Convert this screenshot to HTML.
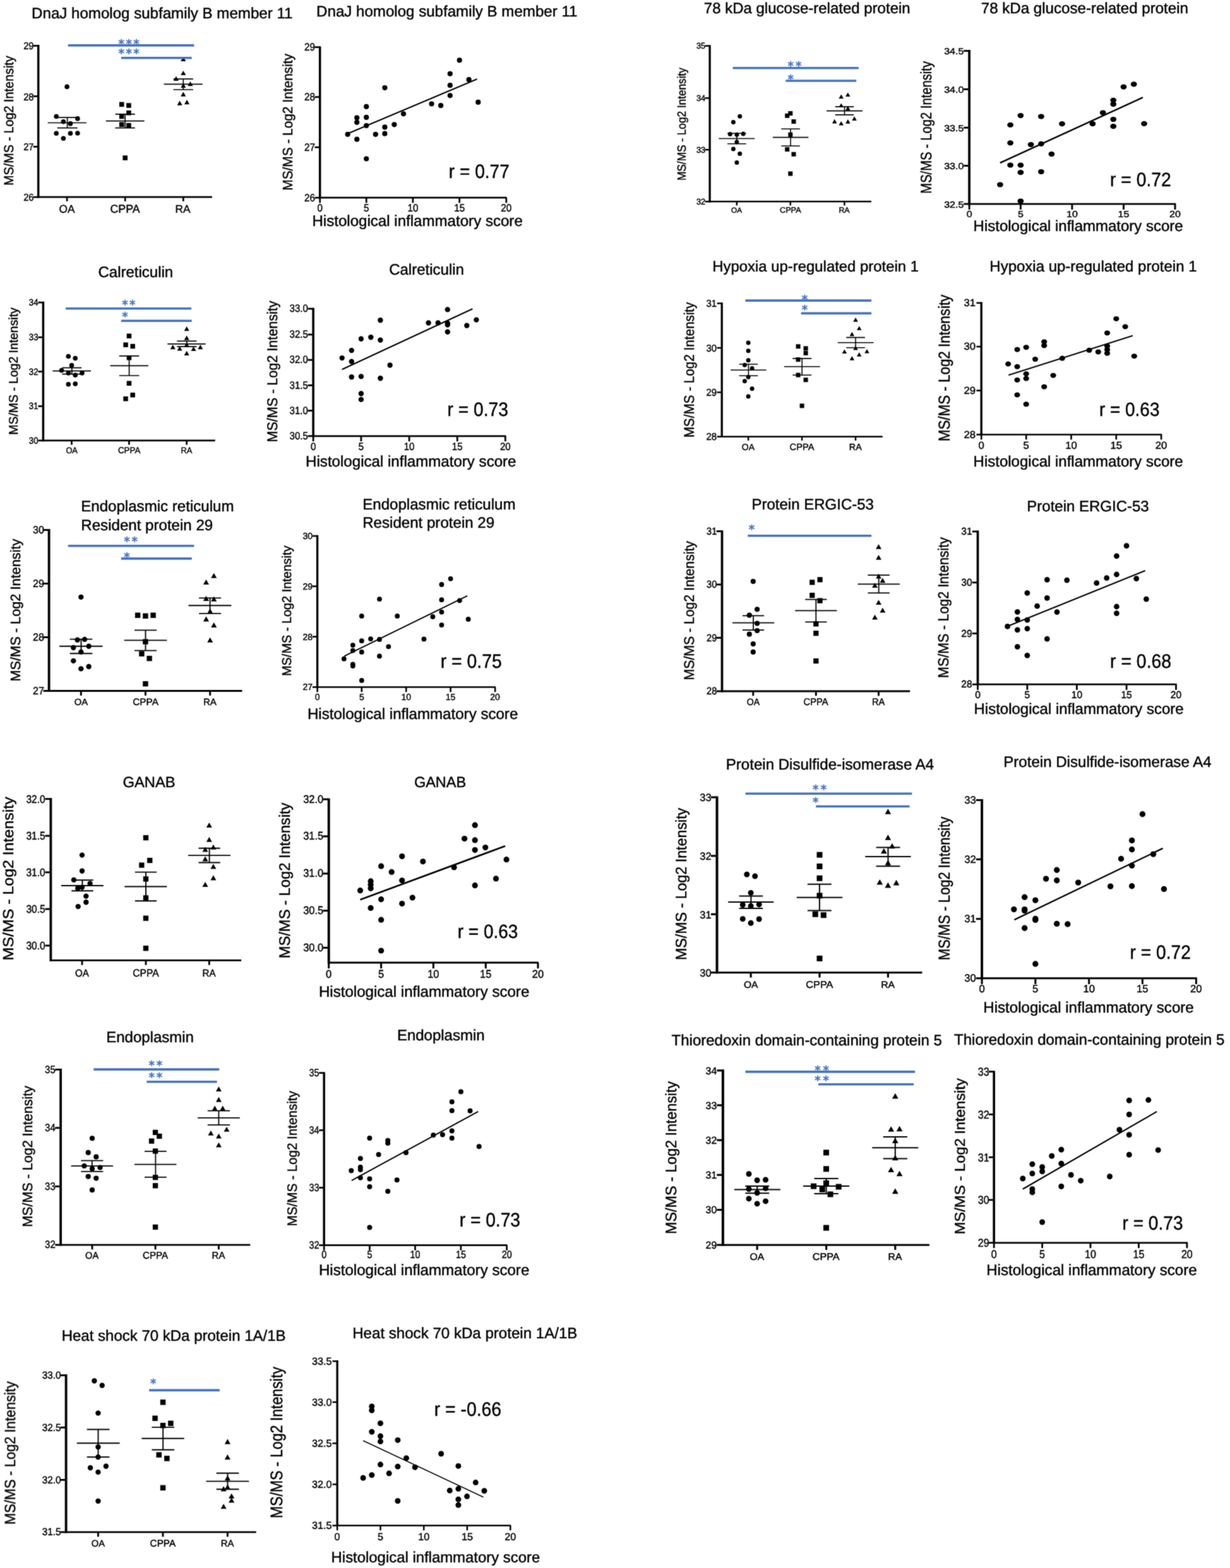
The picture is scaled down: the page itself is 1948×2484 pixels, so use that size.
<!DOCTYPE html>
<html lang="en">
<head>
<meta charset="utf-8">
<title>MS/MS Log2 intensity and histological inflammatory score</title>
<style>
html,body{margin:0;padding:0;background:#fff;}
body{width:1948px;height:2484px;overflow:hidden;}
svg{display:block;font-family:'Liberation Sans', Arial, Helvetica, sans-serif;fill:#000;}
svg text{stroke:#000;stroke-width:.45px;text-rendering:geometricPrecision}
svg .st{font-family:'DejaVu Sans','Liberation Sans',sans-serif;fill:#4472C4;stroke:#4472C4;stroke-width:.7px}
</style>
</head>
<body>
<svg width="1948" height="2484" viewBox="0 0 1948 2484">
<defs>
<filter id="soft" x="0" y="0" width="100%" height="100%" filterUnits="userSpaceOnUse" color-interpolation-filters="sRGB">
<feConvolveMatrix order="3" kernelMatrix="0.5 1 0.5 1 6 1 0.5 1 0.5" divisor="12" edgeMode="duplicate" preserveAlpha="false"/>
</filter>
</defs>
<rect width="100%" height="100%" fill="#fff"/>
<g filter="url(#soft)">
<g>
<text x="50.1" y="29.1" font-size="24.1">DnaJ homolog subfamily B member 11</text>
<line x1="60.7" y1="71.1" x2="60.7" y2="313.6" stroke="#000" stroke-width="3.5"/>
<line x1="59.4" y1="312.2" x2="335.9" y2="312.2" stroke="#000" stroke-width="2.7"/>
<line x1="52.6" y1="72.5" x2="60.7" y2="72.5" stroke="#000" stroke-width="2.7"/>
<text transform="translate(37.2 78.4) scale(0.925 1)" font-size="15.8">29</text>
<line x1="52.6" y1="152.5" x2="60.7" y2="152.5" stroke="#000" stroke-width="2.7"/>
<text transform="translate(37.2 158.5) scale(0.925 1)" font-size="15.8">28</text>
<line x1="52.6" y1="232.4" x2="60.7" y2="232.4" stroke="#000" stroke-width="2.7"/>
<text transform="translate(37.2 238.3) scale(0.925 1)" font-size="15.8">27</text>
<line x1="52.6" y1="312.2" x2="60.7" y2="312.2" stroke="#000" stroke-width="2.7"/>
<text transform="translate(37.2 318.2) scale(0.925 1)" font-size="15.8">26</text>
<line x1="106.1" y1="312.2" x2="106.1" y2="318.9" stroke="#000" stroke-width="2.7"/>
<text transform="translate(93.6 336.5) scale(0.984 1)" font-size="17.5">OA</text>
<line x1="198.2" y1="312.2" x2="198.2" y2="318.9" stroke="#000" stroke-width="2.7"/>
<text transform="translate(174.5 336.5) scale(0.984 1)" font-size="18.1">CPPA</text>
<line x1="290.3" y1="312.2" x2="290.3" y2="318.9" stroke="#000" stroke-width="2.7"/>
<text transform="translate(277.5 336.5) scale(0.984 1)" font-size="17.6">RA</text>
<text transform="translate(20.6 292.3) rotate(-90) scale(0.947 1)" x="-1.7" y="0" font-size="20.9">MS/MS - Log2 Intensity</text>
<path d="M75.6 194.5H136.9M90.7 186.2H122.6M90.7 202.7H122.6M106.6 186.2V202.7" stroke="#000" stroke-width="1.7" fill="none"/>
<circle cx="106.1" cy="137.4" r="3.8"/>
<circle cx="89.2" cy="184.5" r="3.8"/>
<circle cx="122.9" cy="187.9" r="3.8"/>
<circle cx="100.4" cy="192.7" r="3.8"/>
<circle cx="111.5" cy="195.9" r="3.8"/>
<circle cx="89.2" cy="211.3" r="3.8"/>
<circle cx="111.5" cy="211.3" r="3.8"/>
<circle cx="122.9" cy="211" r="3.8"/>
<circle cx="100.4" cy="219.3" r="3.8"/>
<path d="M167.7 191.6H228.7M182.5 180.8H213.8M182.5 202.7H213.8M198.2 180.8V202.7" stroke="#000" stroke-width="1.7" fill="none"/>
<rect x="188.9" y="161.6" width="7.6" height="7.6"/>
<rect x="200.1" y="163.3" width="7.6" height="7.6"/>
<rect x="200.1" y="175" width="7.6" height="7.6"/>
<rect x="188.9" y="180.7" width="7.6" height="7.6"/>
<rect x="188.9" y="193.5" width="7.6" height="7.6"/>
<rect x="200.1" y="194.9" width="7.6" height="7.6"/>
<rect x="194.4" y="246.3" width="7.6" height="7.6"/>
<path d="M259.5 133.4H320.8M274.6 125.2H305.9M274.6 142H305.9M290.3 125.2V142" stroke="#000" stroke-width="1.7" fill="none"/>
<path d="M290.3 89.9L294.4 97.1H286.2Z"/>
<path d="M290.3 111.9L294.4 119.1H286.2Z"/>
<path d="M278.9 120.7L283 127.9H274.7Z"/>
<path d="M301.4 129L305.5 136.2H297.3Z"/>
<path d="M290.3 131.8L294.4 139H286.2Z"/>
<path d="M290.3 145.5L294.4 152.7H286.2Z"/>
<path d="M284.6 159.5L288.7 166.7H280.5Z"/>
<path d="M296 158.1L300.1 165.3H291.9Z"/>
<line x1="107.8" y1="71.9" x2="307.4" y2="71.9" stroke="#4472C4" stroke-width="3.6"/>
<line x1="191.9" y1="91.8" x2="303.7" y2="91.8" stroke="#4472C4" stroke-width="3.6"/>
<text class="st" x="187.6" y="75.8" font-size="18.9" letter-spacing="2.39">***</text>
<text class="st" x="187.6" y="90.9" font-size="18.9" letter-spacing="2.39">***</text>
</g>
<g>
<text x="501.1" y="26.3" font-size="24.1">DnaJ homolog subfamily B member 11</text>
<line x1="506.7" y1="73.4" x2="506.7" y2="314.6" stroke="#000" stroke-width="3.5"/>
<line x1="505.3" y1="313.2" x2="802.4" y2="313.2" stroke="#000" stroke-width="2.7"/>
<line x1="498.5" y1="74.7" x2="506.7" y2="74.7" stroke="#000" stroke-width="2.7"/>
<text transform="translate(482 80.3) scale(0.913 1)" font-size="16.7">29</text>
<line x1="498.5" y1="153.7" x2="506.7" y2="153.7" stroke="#000" stroke-width="2.7"/>
<text transform="translate(482 159.3) scale(0.913 1)" font-size="16.7">28</text>
<line x1="498.5" y1="233.3" x2="506.7" y2="233.3" stroke="#000" stroke-width="2.7"/>
<text transform="translate(482 238.9) scale(0.913 1)" font-size="16.7">27</text>
<line x1="498.5" y1="313.2" x2="506.7" y2="313.2" stroke="#000" stroke-width="2.7"/>
<text transform="translate(482 318.8) scale(0.913 1)" font-size="16.7">26</text>
<line x1="506.7" y1="313.2" x2="506.7" y2="321.4" stroke="#000" stroke-width="2.7"/>
<text transform="translate(502.5 334.8) scale(0.913 1)" font-size="16.7">0</text>
<line x1="580.2" y1="313.2" x2="580.2" y2="321.4" stroke="#000" stroke-width="2.7"/>
<text transform="translate(575.9 334.8) scale(0.913 1)" font-size="16.7">5</text>
<line x1="653.9" y1="313.2" x2="653.9" y2="321.4" stroke="#000" stroke-width="2.7"/>
<text transform="translate(645.5 334.8) scale(0.913 1)" font-size="16.7">10</text>
<line x1="727.7" y1="313.2" x2="727.7" y2="321.4" stroke="#000" stroke-width="2.7"/>
<text transform="translate(719.2 334.8) scale(0.913 1)" font-size="16.7">15</text>
<line x1="801.8" y1="313.2" x2="801.8" y2="321.4" stroke="#000" stroke-width="2.7"/>
<text transform="translate(793.3 334.8) scale(0.913 1)" font-size="16.7">20</text>
<text x="494.4" y="358.3" font-size="24.1">Histological inflammatory score</text>
<text transform="translate(462.7 300.1) rotate(-90) scale(0.956 1)" x="-1.7" y="0" font-size="21.8">MS/MS - Log2 Intensity</text>
<circle cx="727.7" cy="95.4" r="4.1"/>
<circle cx="712.8" cy="116.8" r="4.1"/>
<circle cx="742.6" cy="126.2" r="4.1"/>
<circle cx="712.8" cy="135.2" r="4.1"/>
<circle cx="609.4" cy="139.1" r="4.1"/>
<circle cx="712.8" cy="151.3" r="4.1"/>
<circle cx="757.3" cy="161.9" r="4.1"/>
<circle cx="683.5" cy="164.5" r="4.1"/>
<circle cx="698.1" cy="167.2" r="4.1"/>
<circle cx="580.2" cy="168.9" r="4.1"/>
<circle cx="639" cy="180.3" r="4.1"/>
<circle cx="565.2" cy="186.5" r="4.1"/>
<circle cx="580.2" cy="185.9" r="4.1"/>
<circle cx="565.2" cy="193.8" r="4.1"/>
<circle cx="580.2" cy="199.1" r="4.1"/>
<circle cx="624.4" cy="197.3" r="4.1"/>
<circle cx="609.4" cy="201.4" r="4.1"/>
<circle cx="550.6" cy="212.8" r="4.1"/>
<circle cx="594.8" cy="212.8" r="4.1"/>
<circle cx="609.4" cy="211.7" r="4.1"/>
<circle cx="565.2" cy="220.7" r="4.1"/>
<circle cx="580.2" cy="251.5" r="4.1"/>
<line x1="553" y1="210.8" x2="755.5" y2="125.3" stroke="#000" stroke-width="2.1"/>
<text transform="translate(710.8 282.1) scale(0.915 1)" font-size="30.7">r = 0.77</text>
</g>
<g>
<text x="155.5" y="439" font-size="24">Calreticulin</text>
<line x1="68.4" y1="477.8" x2="68.4" y2="699.3" stroke="#000" stroke-width="3.5"/>
<line x1="67.1" y1="697.9" x2="340.7" y2="697.9" stroke="#000" stroke-width="2.7"/>
<line x1="60.4" y1="479.2" x2="68.4" y2="479.2" stroke="#000" stroke-width="2.7"/>
<text transform="translate(45.8 484) scale(0.894 1)" font-size="14.8">34</text>
<line x1="60.4" y1="534.3" x2="68.4" y2="534.3" stroke="#000" stroke-width="2.7"/>
<text transform="translate(45.8 539.1) scale(0.894 1)" font-size="14.8">33</text>
<line x1="60.4" y1="588.7" x2="68.4" y2="588.7" stroke="#000" stroke-width="2.7"/>
<text transform="translate(45.8 593.5) scale(0.894 1)" font-size="14.8">32</text>
<line x1="60.4" y1="643.5" x2="68.4" y2="643.5" stroke="#000" stroke-width="2.7"/>
<text transform="translate(45.8 648.3) scale(0.894 1)" font-size="14.8">31</text>
<line x1="60.4" y1="697.9" x2="68.4" y2="697.9" stroke="#000" stroke-width="2.7"/>
<text transform="translate(45.8 702.7) scale(0.894 1)" font-size="14.8">30</text>
<line x1="113.5" y1="697.9" x2="113.5" y2="704.6" stroke="#000" stroke-width="2.7"/>
<text transform="translate(104.4 717.9) scale(0.951 1)" font-size="13.4">OA</text>
<line x1="204.4" y1="697.9" x2="204.4" y2="704.6" stroke="#000" stroke-width="2.7"/>
<text transform="translate(187 717.9) scale(0.951 1)" font-size="14">CPPA</text>
<line x1="295.7" y1="697.9" x2="295.7" y2="704.6" stroke="#000" stroke-width="2.7"/>
<text transform="translate(286.4 717.9) scale(0.951 1)" font-size="13.6">RA</text>
<text transform="translate(27.8 687.1) rotate(-90) scale(0.974 1)" x="-1.6" y="0" font-size="19.9">MS/MS - Log2 Intensity</text>
<path d="M83.5 587.6H144M98.4 582.7H129.2M98.4 592.7H129.2M113.8 582.7V592.7" stroke="#000" stroke-width="1.7" fill="none"/>
<circle cx="108.3" cy="564.5" r="3.8"/>
<circle cx="119.2" cy="567.6" r="3.8"/>
<circle cx="113.5" cy="578.8" r="3.8"/>
<circle cx="97.5" cy="586.7" r="3.8"/>
<circle cx="108.3" cy="591" r="3.8"/>
<circle cx="130" cy="591" r="3.8"/>
<circle cx="119.2" cy="594.2" r="3.8"/>
<circle cx="108.3" cy="608.7" r="3.8"/>
<circle cx="119.2" cy="608.1" r="3.8"/>
<path d="M174.5 579.3H234.9M188.8 563.9H220.4M188.8 595H220.4M204.6 563.9V595" stroke="#000" stroke-width="1.7" fill="none"/>
<rect x="200.7" y="528.5" width="7.5" height="7.5"/>
<rect x="195.3" y="542.5" width="7.5" height="7.5"/>
<rect x="206.4" y="544.8" width="7.5" height="7.5"/>
<rect x="200.7" y="563" width="7.5" height="7.5"/>
<rect x="200.7" y="603.5" width="7.5" height="7.5"/>
<rect x="206.4" y="622" width="7.5" height="7.5"/>
<rect x="195.3" y="628" width="7.5" height="7.5"/>
<path d="M265.2 544.8H325.6M280.3 540.3H311.4M280.3 549.1H311.4M295.8 540.3V549.1" stroke="#000" stroke-width="1.7" fill="none"/>
<path d="M295.7 517L299.7 524.2H291.6Z"/>
<path d="M295.7 531.6L299.7 538.7H291.6Z"/>
<path d="M295.7 542.4L299.7 549.5H291.6Z"/>
<path d="M273.7 546.1L277.8 553.2H269.7Z"/>
<path d="M284.6 548.4L288.6 555.5H280.5Z"/>
<path d="M306.5 549L310.6 556.1H302.5Z"/>
<path d="M317.3 546.1L321.4 553.2H313.3Z"/>
<path d="M295.7 555.8L299.7 562.9H291.6Z"/>
<line x1="104.1" y1="488.7" x2="303.1" y2="488.7" stroke="#4472C4" stroke-width="3.6"/>
<line x1="191.9" y1="508.3" x2="303.7" y2="508.3" stroke="#4472C4" stroke-width="3.6"/>
<text class="st" x="193.3" y="488.6" font-size="18.9" letter-spacing="2.23">**</text>
<text class="st" x="193.3" y="508" font-size="18.9">*</text>
</g>
<g>
<text x="616.2" y="434.5" font-size="24">Calreticulin</text>
<line x1="496.1" y1="487.7" x2="496.1" y2="692.2" stroke="#000" stroke-width="3.6"/>
<line x1="494.7" y1="690.8" x2="801.2" y2="690.8" stroke="#000" stroke-width="2.8"/>
<line x1="487.7" y1="489.1" x2="496.1" y2="489.1" stroke="#000" stroke-width="2.8"/>
<text transform="translate(458.6 494.3) scale(0.907 1)" font-size="16.6">33.0</text>
<line x1="487.7" y1="530" x2="496.1" y2="530" stroke="#000" stroke-width="2.8"/>
<text transform="translate(458.6 535.2) scale(0.907 1)" font-size="16.6">32.5</text>
<line x1="487.7" y1="570.2" x2="496.1" y2="570.2" stroke="#000" stroke-width="2.8"/>
<text transform="translate(458.6 575.4) scale(0.907 1)" font-size="16.6">32.0</text>
<line x1="487.7" y1="610.4" x2="496.1" y2="610.4" stroke="#000" stroke-width="2.8"/>
<text transform="translate(458.6 615.6) scale(0.907 1)" font-size="16.6">31.5</text>
<line x1="487.7" y1="650.6" x2="496.1" y2="650.6" stroke="#000" stroke-width="2.8"/>
<text transform="translate(458.6 655.8) scale(0.907 1)" font-size="16.6">31.0</text>
<line x1="487.7" y1="690.8" x2="496.1" y2="690.8" stroke="#000" stroke-width="2.8"/>
<text transform="translate(458.6 696.1) scale(0.907 1)" font-size="16.6">30.5</text>
<line x1="496.1" y1="690.8" x2="496.1" y2="699.2" stroke="#000" stroke-width="2.8"/>
<text transform="translate(491.9 713.2) scale(0.907 1)" font-size="16.6">0</text>
<line x1="571.9" y1="690.8" x2="571.9" y2="699.2" stroke="#000" stroke-width="2.8"/>
<text transform="translate(567.8 713.2) scale(0.907 1)" font-size="16.6">5</text>
<line x1="648.1" y1="690.8" x2="648.1" y2="699.2" stroke="#000" stroke-width="2.8"/>
<text transform="translate(639.7 713.2) scale(0.907 1)" font-size="16.6">10</text>
<line x1="724.2" y1="690.8" x2="724.2" y2="699.2" stroke="#000" stroke-width="2.8"/>
<text transform="translate(715.8 713.2) scale(0.907 1)" font-size="16.6">15</text>
<line x1="800.3" y1="690.8" x2="800.3" y2="699.2" stroke="#000" stroke-width="2.8"/>
<text transform="translate(792 713.2) scale(0.907 1)" font-size="16.6">20</text>
<text x="484.1" y="739" font-size="24.1">Histological inflammatory score</text>
<text transform="translate(438.9 698.8) rotate(-90) scale(0.954 1)" x="-1.8" y="0" font-size="22.6">MS/MS - Log2 Intensity</text>
<circle cx="708.8" cy="490.4" r="4.2"/>
<circle cx="602.4" cy="507.2" r="4.2"/>
<circle cx="754.4" cy="506.6" r="4.2"/>
<circle cx="678.6" cy="511.5" r="4.2"/>
<circle cx="693.7" cy="511.5" r="4.2"/>
<circle cx="708.8" cy="512" r="4.2"/>
<circle cx="708.8" cy="514.6" r="4.2"/>
<circle cx="739.3" cy="515.7" r="4.2"/>
<circle cx="708.8" cy="525.7" r="4.2"/>
<circle cx="587.3" cy="534.3" r="4.2"/>
<circle cx="571.9" cy="536.8" r="4.2"/>
<circle cx="602.4" cy="538.8" r="4.2"/>
<circle cx="556.8" cy="555.1" r="4.2"/>
<circle cx="541.7" cy="567.1" r="4.2"/>
<circle cx="556.8" cy="572.8" r="4.2"/>
<circle cx="617.6" cy="578.5" r="4.2"/>
<circle cx="556.8" cy="597.3" r="4.2"/>
<circle cx="571.9" cy="596.4" r="4.2"/>
<circle cx="602.4" cy="599.3" r="4.2"/>
<circle cx="571.9" cy="623.5" r="4.2"/>
<circle cx="571.9" cy="632.9" r="4.2"/>
<line x1="541.7" y1="585.3" x2="748.4" y2="489.2" stroke="#000" stroke-width="2.2"/>
<text transform="translate(708.5 658.5) scale(0.915 1)" font-size="30.8">r = 0.73</text>
</g>
<g>
<text x="128.2" y="810.2" font-size="24.1">Endoplasmic reticulum</text>
<text x="128.3" y="839.9" font-size="24.1">Resident protein 29</text>
<line x1="77.6" y1="838.1" x2="77.6" y2="1095.9" stroke="#000" stroke-width="3.8"/>
<line x1="76.1" y1="1094.5" x2="383.5" y2="1094.5" stroke="#000" stroke-width="2.9"/>
<line x1="68.5" y1="839.6" x2="77.6" y2="839.6" stroke="#000" stroke-width="2.9"/>
<text transform="translate(52 845) scale(0.960 1)" font-size="16.7">30</text>
<line x1="68.5" y1="924.5" x2="77.6" y2="924.5" stroke="#000" stroke-width="2.9"/>
<text transform="translate(52 929.9) scale(0.960 1)" font-size="16.7">29</text>
<line x1="68.5" y1="1009.5" x2="77.6" y2="1009.5" stroke="#000" stroke-width="2.9"/>
<text transform="translate(52 1014.9) scale(0.960 1)" font-size="16.7">28</text>
<line x1="68.5" y1="1094.5" x2="77.6" y2="1094.5" stroke="#000" stroke-width="2.9"/>
<text transform="translate(52 1099.9) scale(0.960 1)" font-size="16.7">27</text>
<line x1="128.3" y1="1094.5" x2="128.3" y2="1101.9" stroke="#000" stroke-width="2.9"/>
<text transform="translate(117.7 1117) scale(1.021 1)" font-size="14.4">OA</text>
<line x1="230.4" y1="1094.5" x2="230.4" y2="1101.9" stroke="#000" stroke-width="2.9"/>
<text transform="translate(210.3 1117) scale(1.021 1)" font-size="15">CPPA</text>
<line x1="332.7" y1="1094.5" x2="332.7" y2="1101.9" stroke="#000" stroke-width="2.9"/>
<text transform="translate(321.9 1117) scale(1.021 1)" font-size="14.8">RA</text>
<text transform="translate(31.9 1077.9) rotate(-90) scale(0.998 1)" x="-1.7" y="0" font-size="21.8">MS/MS - Log2 Intensity</text>
<path d="M94.1 1023.8H162.5M110.6 1012.6H146.3M110.6 1035.2H146.3M128.5 1012.6V1035.2" stroke="#000" stroke-width="1.9" fill="none"/>
<circle cx="128.3" cy="945.9" r="4.2"/>
<circle cx="122.6" cy="1013.8" r="4.2"/>
<circle cx="134" cy="1012.9" r="4.2"/>
<circle cx="116.3" cy="1026" r="4.2"/>
<circle cx="140.6" cy="1023.8" r="4.2"/>
<circle cx="128.3" cy="1032.9" r="4.2"/>
<circle cx="116.3" cy="1046.9" r="4.2"/>
<circle cx="140.6" cy="1056" r="4.2"/>
<circle cx="128.3" cy="1059.4" r="4.2"/>
<path d="M196.7 1014.4H264.3M213 998.4H248.1M213 1030.6H248.1M230.5 998.4V1030.6" stroke="#000" stroke-width="1.9" fill="none"/>
<rect x="213.9" y="970.5" width="8.4" height="8.4"/>
<rect x="226.2" y="971.6" width="8.4" height="8.4"/>
<rect x="238.4" y="970.5" width="8.4" height="8.4"/>
<rect x="226.2" y="1012.4" width="8.4" height="8.4"/>
<rect x="220.2" y="1031.5" width="8.4" height="8.4"/>
<rect x="232.4" y="1038.9" width="8.4" height="8.4"/>
<rect x="226.2" y="1079.1" width="8.4" height="8.4"/>
<path d="M298.5 959.3H366.4M315.1 947.4H350.1M315.1 971.9H350.1M332.6 947.4V971.9" stroke="#000" stroke-width="1.9" fill="none"/>
<path d="M338.7 907.7L343.3 915.7H334.2Z"/>
<path d="M326.5 918L331 926H321.9Z"/>
<path d="M326.5 943.9L331 951.9H321.9Z"/>
<path d="M338.7 944.8L343.3 952.8H334.2Z"/>
<path d="M332.7 963.9L337.3 971.9H328.2Z"/>
<path d="M326.5 976.4L331 984.4H321.9Z"/>
<path d="M338.7 986.1L343.3 994.1H334.2Z"/>
<path d="M332.7 1009.8L337.3 1017.8H328.2Z"/>
<line x1="107.8" y1="864.7" x2="307.4" y2="864.7" stroke="#4472C4" stroke-width="3.6"/>
<line x1="191.9" y1="884.9" x2="303.7" y2="884.9" stroke="#4472C4" stroke-width="3.6"/>
<text class="st" x="196.2" y="864.3" font-size="18.9" letter-spacing="2.80">**</text>
<text class="st" x="196.2" y="888.8" font-size="18.9">*</text>
</g>
<g>
<text x="574.2" y="806.8" font-size="24.1">Endoplasmic reticulum</text>
<text x="574.2" y="835.6" font-size="24.1">Resident protein 29</text>
<line x1="502.6" y1="847.8" x2="502.6" y2="1089.8" stroke="#000" stroke-width="3.4"/>
<line x1="501.3" y1="1088.5" x2="784.9" y2="1088.5" stroke="#000" stroke-width="2.6"/>
<line x1="494.9" y1="849.1" x2="502.6" y2="849.1" stroke="#000" stroke-width="2.6"/>
<text transform="translate(479.5 854) scale(0.980 1)" font-size="14.3">30</text>
<line x1="494.9" y1="928.8" x2="502.6" y2="928.8" stroke="#000" stroke-width="2.6"/>
<text transform="translate(479.5 933.8) scale(0.980 1)" font-size="14.3">29</text>
<line x1="494.9" y1="1008.7" x2="502.6" y2="1008.7" stroke="#000" stroke-width="2.6"/>
<text transform="translate(479.5 1013.6) scale(0.980 1)" font-size="14.3">28</text>
<line x1="494.9" y1="1088.5" x2="502.6" y2="1088.5" stroke="#000" stroke-width="2.6"/>
<text transform="translate(479.5 1093.4) scale(0.980 1)" font-size="14.3">27</text>
<line x1="502.6" y1="1088.5" x2="502.6" y2="1096.3" stroke="#000" stroke-width="2.6"/>
<text transform="translate(498.7 1108.9) scale(0.980 1)" font-size="14.3">0</text>
<line x1="572.8" y1="1088.5" x2="572.8" y2="1096.3" stroke="#000" stroke-width="2.6"/>
<text transform="translate(568.9 1108.9) scale(0.980 1)" font-size="14.3">5</text>
<line x1="643.2" y1="1088.5" x2="643.2" y2="1096.3" stroke="#000" stroke-width="2.6"/>
<text transform="translate(635.4 1108.9) scale(0.980 1)" font-size="14.3">10</text>
<line x1="713.6" y1="1088.5" x2="713.6" y2="1096.3" stroke="#000" stroke-width="2.6"/>
<text transform="translate(705.8 1108.9) scale(0.980 1)" font-size="14.3">15</text>
<line x1="784.1" y1="1088.5" x2="784.1" y2="1096.3" stroke="#000" stroke-width="2.6"/>
<text transform="translate(776.3 1108.9) scale(0.980 1)" font-size="14.3">20</text>
<text x="486.9" y="1139" font-size="24.1">Histological inflammatory score</text>
<text transform="translate(460.8 1069.4) rotate(-90) scale(0.975 1)" x="-1.6" y="0" font-size="20.4">MS/MS - Log2 Intensity</text>
<circle cx="713.6" cy="916.8" r="3.9"/>
<circle cx="699.4" cy="926" r="3.9"/>
<circle cx="601" cy="949.1" r="3.9"/>
<circle cx="699.4" cy="950.2" r="3.9"/>
<circle cx="727.9" cy="951.3" r="3.9"/>
<circle cx="699.4" cy="969.6" r="3.9"/>
<circle cx="572.8" cy="975.9" r="3.9"/>
<circle cx="629.2" cy="975.9" r="3.9"/>
<circle cx="685.4" cy="977" r="3.9"/>
<circle cx="741.6" cy="981" r="3.9"/>
<circle cx="699.4" cy="990.1" r="3.9"/>
<circle cx="587" cy="1012.1" r="3.9"/>
<circle cx="601" cy="1012.9" r="3.9"/>
<circle cx="671.4" cy="1012.4" r="3.9"/>
<circle cx="572.8" cy="1015.2" r="3.9"/>
<circle cx="558.8" cy="1022.1" r="3.9"/>
<circle cx="615.3" cy="1024.3" r="3.9"/>
<circle cx="558.8" cy="1030.6" r="3.9"/>
<circle cx="572.8" cy="1032.9" r="3.9"/>
<circle cx="601" cy="1039.4" r="3.9"/>
<circle cx="544.8" cy="1043.7" r="3.9"/>
<circle cx="558.8" cy="1052.3" r="3.9"/>
<circle cx="558.8" cy="1055.1" r="3.9"/>
<circle cx="572.8" cy="1077.9" r="3.9"/>
<line x1="545.4" y1="1039.4" x2="740.2" y2="943.9" stroke="#000" stroke-width="2"/>
<text transform="translate(697.7 1058.4) scale(0.915 1)" font-size="31">r = 0.75</text>
</g>
<g>
<text x="194.6" y="1247.1" font-size="23.7">GANAB</text>
<line x1="80.4" y1="1264.3" x2="80.4" y2="1522.8" stroke="#000" stroke-width="3.8"/>
<line x1="79" y1="1521.4" x2="382.1" y2="1521.4" stroke="#000" stroke-width="2.9"/>
<line x1="71.5" y1="1265.7" x2="80.4" y2="1265.7" stroke="#000" stroke-width="2.9"/>
<text transform="translate(41.4 1271.7) scale(0.877 1)" font-size="17.7">32.0</text>
<line x1="71.5" y1="1324.1" x2="80.4" y2="1324.1" stroke="#000" stroke-width="2.9"/>
<text transform="translate(41.4 1330) scale(0.877 1)" font-size="17.7">31.5</text>
<line x1="71.5" y1="1381.9" x2="80.4" y2="1381.9" stroke="#000" stroke-width="2.9"/>
<text transform="translate(41.4 1387.9) scale(0.877 1)" font-size="17.7">31.0</text>
<line x1="71.5" y1="1440.1" x2="80.4" y2="1440.1" stroke="#000" stroke-width="2.9"/>
<text transform="translate(41.4 1446) scale(0.877 1)" font-size="17.7">30.5</text>
<line x1="71.5" y1="1498" x2="80.4" y2="1498" stroke="#000" stroke-width="2.9"/>
<text transform="translate(41.4 1503.9) scale(0.877 1)" font-size="17.7">30.0</text>
<line x1="130" y1="1521.4" x2="130" y2="1528.7" stroke="#000" stroke-width="2.9"/>
<text transform="translate(119.1 1547.3) scale(0.933 1)" font-size="16.2">OA</text>
<line x1="231" y1="1521.4" x2="231" y2="1528.7" stroke="#000" stroke-width="2.9"/>
<text transform="translate(210.3 1547.3) scale(0.933 1)" font-size="16.8">CPPA</text>
<line x1="331.3" y1="1521.4" x2="331.3" y2="1528.7" stroke="#000" stroke-width="2.9"/>
<text transform="translate(320.5 1547.3) scale(0.933 1)" font-size="16.2">RA</text>
<text transform="translate(21.1 1519.4) rotate(-90) scale(1.070 1)" x="-1.9" y="0" font-size="23.3">MS/MS - Log2 Intensity</text>
<path d="M96.9 1403H163.9M113.2 1394.2H147.7M113.2 1411.3H147.7M130.4 1394.2V1411.3" stroke="#000" stroke-width="1.9" fill="none"/>
<circle cx="130" cy="1354.6" r="4.2"/>
<circle cx="130" cy="1379.7" r="4.2"/>
<circle cx="116.9" cy="1393.9" r="4.2"/>
<circle cx="142.6" cy="1399.6" r="4.2"/>
<circle cx="130" cy="1405.6" r="4.2"/>
<circle cx="123.2" cy="1407.3" r="4.2"/>
<circle cx="136.3" cy="1419.6" r="4.2"/>
<circle cx="136.3" cy="1429.3" r="4.2"/>
<circle cx="123.7" cy="1436.1" r="4.2"/>
<path d="M197.3 1404.5H264.3M213.8 1381.6H248.1M213.8 1427.3H248.1M231 1381.6V1427.3" stroke="#000" stroke-width="1.9" fill="none"/>
<rect x="226.8" y="1323" width="8.3" height="8.3"/>
<rect x="233.1" y="1358.9" width="8.3" height="8.3"/>
<rect x="220.2" y="1366.4" width="8.3" height="8.3"/>
<rect x="226.8" y="1388.3" width="8.3" height="8.3"/>
<rect x="226.8" y="1418.3" width="8.3" height="8.3"/>
<rect x="226.8" y="1450.5" width="8.3" height="8.3"/>
<rect x="226.8" y="1498.1" width="8.3" height="8.3"/>
<path d="M298 1355.1H365M314.5 1343.7H348.7M314.5 1366.5H348.7M331.6 1343.7V1366.5" stroke="#000" stroke-width="1.9" fill="none"/>
<path d="M331.3 1303L335.8 1310.9H326.8Z"/>
<path d="M331.3 1325.8L335.8 1333.7H326.8Z"/>
<path d="M337.9 1337.8L342.4 1345.7H333.4Z"/>
<path d="M325 1341.5L329.5 1349.4H320.5Z"/>
<path d="M325 1356.6L329.5 1364.5H320.5Z"/>
<path d="M337.9 1368.6L342.4 1376.5H333.4Z"/>
<path d="M337.9 1386.5L342.4 1394.4H333.4Z"/>
<path d="M325 1397.1L329.5 1405H320.5Z"/>
</g>
<g>
<text x="655.9" y="1247.1" font-size="23.5">GANAB</text>
<line x1="520.7" y1="1264.7" x2="520.7" y2="1526.5" stroke="#000" stroke-width="3.9"/>
<line x1="519.2" y1="1525.1" x2="852.8" y2="1525.1" stroke="#000" stroke-width="3"/>
<line x1="511.5" y1="1266.2" x2="520.7" y2="1266.2" stroke="#000" stroke-width="3"/>
<text transform="translate(480.2 1271.6) scale(0.930 1)" font-size="17.7">32.0</text>
<line x1="511.5" y1="1324.9" x2="520.7" y2="1324.9" stroke="#000" stroke-width="3"/>
<text transform="translate(480.2 1330.3) scale(0.930 1)" font-size="17.7">31.5</text>
<line x1="511.5" y1="1383.9" x2="520.7" y2="1383.9" stroke="#000" stroke-width="3"/>
<text transform="translate(480.2 1389.4) scale(0.930 1)" font-size="17.7">31.0</text>
<line x1="511.5" y1="1442.7" x2="520.7" y2="1442.7" stroke="#000" stroke-width="3"/>
<text transform="translate(480.2 1448.1) scale(0.930 1)" font-size="17.7">30.5</text>
<line x1="511.5" y1="1501.4" x2="520.7" y2="1501.4" stroke="#000" stroke-width="3"/>
<text transform="translate(480.2 1506.8) scale(0.930 1)" font-size="17.7">30.0</text>
<line x1="520.7" y1="1525.1" x2="520.7" y2="1534.2" stroke="#000" stroke-width="3"/>
<text transform="translate(516.1 1548.9) scale(0.930 1)" font-size="17.7">0</text>
<line x1="603.6" y1="1525.1" x2="603.6" y2="1534.2" stroke="#000" stroke-width="3"/>
<text transform="translate(599.1 1548.9) scale(0.930 1)" font-size="17.7">5</text>
<line x1="686.3" y1="1525.1" x2="686.3" y2="1534.2" stroke="#000" stroke-width="3"/>
<text transform="translate(677.2 1548.9) scale(0.930 1)" font-size="17.7">10</text>
<line x1="769.3" y1="1525.1" x2="769.3" y2="1534.2" stroke="#000" stroke-width="3"/>
<text transform="translate(760.1 1548.9) scale(0.930 1)" font-size="17.7">15</text>
<line x1="852" y1="1525.1" x2="852" y2="1534.2" stroke="#000" stroke-width="3"/>
<text transform="translate(842.8 1548.9) scale(0.930 1)" font-size="17.7">20</text>
<text x="504.9" y="1579" font-size="24.1">Histological inflammatory score</text>
<text transform="translate(459 1516.5) rotate(-90) scale(0.982 1)" x="-1.9" y="0" font-size="24.2">MS/MS - Log2 Intensity</text>
<circle cx="752.2" cy="1307.2" r="4.6"/>
<circle cx="735.6" cy="1328.6" r="4.6"/>
<circle cx="752.2" cy="1330.9" r="4.6"/>
<circle cx="768.7" cy="1342.6" r="4.6"/>
<circle cx="752.2" cy="1346.6" r="4.6"/>
<circle cx="636.7" cy="1356.6" r="4.6"/>
<circle cx="802.1" cy="1361.7" r="4.6"/>
<circle cx="669.8" cy="1364.8" r="4.6"/>
<circle cx="603.6" cy="1372.2" r="4.6"/>
<circle cx="719.1" cy="1373.9" r="4.6"/>
<circle cx="620.2" cy="1381.4" r="4.6"/>
<circle cx="785.5" cy="1391.9" r="4.6"/>
<circle cx="636.7" cy="1394.8" r="4.6"/>
<circle cx="587.1" cy="1395.9" r="4.6"/>
<circle cx="587.1" cy="1401.6" r="4.6"/>
<circle cx="752.2" cy="1402.7" r="4.6"/>
<circle cx="587.1" cy="1407.3" r="4.6"/>
<circle cx="570.5" cy="1410.7" r="4.6"/>
<circle cx="653.2" cy="1422.1" r="4.6"/>
<circle cx="603.6" cy="1424.7" r="4.6"/>
<circle cx="636.7" cy="1431.5" r="4.6"/>
<circle cx="587.1" cy="1438.4" r="4.6"/>
<circle cx="603.6" cy="1457.2" r="4.6"/>
<circle cx="603.6" cy="1506" r="4.6"/>
<line x1="570.5" y1="1425.3" x2="800.1" y2="1340.3" stroke="#000" stroke-width="2.7"/>
<text transform="translate(724.8 1486.2) scale(0.915 1)" font-size="30.5">r = 0.63</text>
</g>
<g>
<text x="168.2" y="1651.4" font-size="24">Endoplasmin</text>
<line x1="96.1" y1="1693" x2="96.1" y2="1973.6" stroke="#000" stroke-width="3.8"/>
<line x1="94.6" y1="1972.1" x2="396.3" y2="1972.1" stroke="#000" stroke-width="2.9"/>
<line x1="87.2" y1="1694.4" x2="96.1" y2="1694.4" stroke="#000" stroke-width="2.9"/>
<text transform="translate(71.1 1699.6) scale(0.900 1)" font-size="16.7">35</text>
<line x1="87.2" y1="1786.8" x2="96.1" y2="1786.8" stroke="#000" stroke-width="2.9"/>
<text transform="translate(71.1 1792) scale(0.900 1)" font-size="16.7">34</text>
<line x1="87.2" y1="1879.5" x2="96.1" y2="1879.5" stroke="#000" stroke-width="2.9"/>
<text transform="translate(71.1 1884.7) scale(0.900 1)" font-size="16.7">33</text>
<line x1="87.2" y1="1972.1" x2="96.1" y2="1972.1" stroke="#000" stroke-width="2.9"/>
<text transform="translate(71.1 1977.4) scale(0.900 1)" font-size="16.7">32</text>
<line x1="146" y1="1972.1" x2="146" y2="1979.4" stroke="#000" stroke-width="2.9"/>
<text transform="translate(135.1 1993.5) scale(0.957 1)" font-size="15.2">OA</text>
<line x1="246.1" y1="1972.1" x2="246.1" y2="1979.4" stroke="#000" stroke-width="2.9"/>
<text transform="translate(226 1993.5) scale(0.957 1)" font-size="15.8">CPPA</text>
<line x1="346.4" y1="1972.1" x2="346.4" y2="1979.4" stroke="#000" stroke-width="2.9"/>
<text transform="translate(335.6 1993.5) scale(0.957 1)" font-size="15.6">RA</text>
<text transform="translate(51.3 1942.2) rotate(-90) scale(0.988 1)" x="-1.7" y="0" font-size="21.8">MS/MS - Log2 Intensity</text>
<path d="M112.6 1847.2H179.1M128.3 1838.7H163.4M128.3 1855.8H163.4M145.8 1838.7V1855.8" stroke="#000" stroke-width="1.8" fill="none"/>
<circle cx="146" cy="1803.3" r="4.1"/>
<circle cx="139.7" cy="1825.9" r="4.1"/>
<circle cx="152.3" cy="1832.7" r="4.1"/>
<circle cx="133.4" cy="1847" r="4.1"/>
<circle cx="146" cy="1851.5" r="4.1"/>
<circle cx="158.5" cy="1849.5" r="4.1"/>
<circle cx="139.7" cy="1863.8" r="4.1"/>
<circle cx="152.3" cy="1866.6" r="4.1"/>
<circle cx="146" cy="1885.2" r="4.1"/>
<path d="M213 1844.7H279.4M229 1823.9H263.7M229 1864.9H263.7M246.4 1823.9V1864.9" stroke="#000" stroke-width="1.8" fill="none"/>
<rect x="241.9" y="1789.8" width="8.3" height="8.3"/>
<rect x="248.2" y="1795.8" width="8.3" height="8.3"/>
<rect x="235.9" y="1803.5" width="8.3" height="8.3"/>
<rect x="241.9" y="1819.4" width="8.3" height="8.3"/>
<rect x="241.9" y="1861.1" width="8.3" height="8.3"/>
<rect x="241.9" y="1874.2" width="8.3" height="8.3"/>
<rect x="241.9" y="1939.8" width="8.3" height="8.3"/>
<path d="M313.1 1770.8H379.8M328.8 1759.7H364.1M328.8 1782.2H364.1M346.4 1759.7V1782.2" stroke="#000" stroke-width="1.8" fill="none"/>
<path d="M346.4 1721.3L350.9 1729.1H342Z"/>
<path d="M346.4 1737.8L350.9 1745.7H342Z"/>
<path d="M340.2 1751.5L344.6 1759.4H335.7Z"/>
<path d="M352.7 1751.5L357.2 1759.4H348.2Z"/>
<path d="M359 1784.9L363.4 1792.7H354.5Z"/>
<path d="M333.9 1790.9L338.4 1798.7H329.4Z"/>
<path d="M346.4 1795.7L350.9 1803.6H342Z"/>
<path d="M346.4 1809.7L350.9 1817.5H342Z"/>
<line x1="148.3" y1="1694.1" x2="347.3" y2="1694.1" stroke="#4472C4" stroke-width="3.6"/>
<line x1="232.4" y1="1713.8" x2="343.6" y2="1713.8" stroke="#4472C4" stroke-width="3.6"/>
<text class="st" x="235.5" y="1693.8" font-size="18.9" letter-spacing="2.80">**</text>
<text class="st" x="235.5" y="1713.2" font-size="18.9" letter-spacing="2.80">**</text>
</g>
<g>
<text x="628.9" y="1647.7" font-size="24">Endoplasmin</text>
<line x1="513.2" y1="1698.4" x2="513.2" y2="1974" stroke="#000" stroke-width="3.5"/>
<line x1="511.9" y1="1972.7" x2="803.5" y2="1972.7" stroke="#000" stroke-width="2.7"/>
<line x1="505.2" y1="1699.7" x2="513.2" y2="1699.7" stroke="#000" stroke-width="2.7"/>
<text transform="translate(489.5 1705.3) scale(0.860 1)" font-size="16.7">35</text>
<line x1="505.2" y1="1790.5" x2="513.2" y2="1790.5" stroke="#000" stroke-width="2.7"/>
<text transform="translate(489.5 1796.1) scale(0.860 1)" font-size="16.7">34</text>
<line x1="505.2" y1="1881.5" x2="513.2" y2="1881.5" stroke="#000" stroke-width="2.7"/>
<text transform="translate(489.5 1887.1) scale(0.860 1)" font-size="16.7">33</text>
<line x1="505.2" y1="1972.7" x2="513.2" y2="1972.7" stroke="#000" stroke-width="2.7"/>
<text transform="translate(489.5 1978.3) scale(0.860 1)" font-size="16.7">32</text>
<line x1="513.2" y1="1972.7" x2="513.2" y2="1980.7" stroke="#000" stroke-width="2.7"/>
<text transform="translate(509.2 1993.1) scale(0.860 1)" font-size="16.7">0</text>
<line x1="585.4" y1="1972.7" x2="585.4" y2="1980.7" stroke="#000" stroke-width="2.7"/>
<text transform="translate(581.4 1993.1) scale(0.860 1)" font-size="16.7">5</text>
<line x1="657.5" y1="1972.7" x2="657.5" y2="1980.7" stroke="#000" stroke-width="2.7"/>
<text transform="translate(649.5 1993.1) scale(0.860 1)" font-size="16.7">10</text>
<line x1="729.9" y1="1972.7" x2="729.9" y2="1980.7" stroke="#000" stroke-width="2.7"/>
<text transform="translate(721.9 1993.1) scale(0.860 1)" font-size="16.7">15</text>
<line x1="802.6" y1="1972.7" x2="802.6" y2="1980.7" stroke="#000" stroke-width="2.7"/>
<text transform="translate(794.7 1993.1) scale(0.860 1)" font-size="16.7">20</text>
<text x="504.9" y="2019.8" font-size="24.1">Histological inflammatory score</text>
<text transform="translate(469.8 1940.8) rotate(-90) scale(0.964 1)" x="-1.7" y="0" font-size="21.4">MS/MS - Log2 Intensity</text>
<circle cx="729.9" cy="1729.5" r="4"/>
<circle cx="715.7" cy="1745.5" r="4"/>
<circle cx="715.7" cy="1759.4" r="4"/>
<circle cx="744.5" cy="1759.7" r="4"/>
<circle cx="715.7" cy="1791.4" r="4"/>
<circle cx="686.3" cy="1798.2" r="4"/>
<circle cx="700.9" cy="1797.6" r="4"/>
<circle cx="585.4" cy="1803.1" r="4"/>
<circle cx="715.7" cy="1803.1" r="4"/>
<circle cx="614.2" cy="1806.8" r="4"/>
<circle cx="614.2" cy="1811" r="4"/>
<circle cx="758.7" cy="1816.2" r="4"/>
<circle cx="643" cy="1825.9" r="4"/>
<circle cx="599.6" cy="1829" r="4"/>
<circle cx="570.8" cy="1835.3" r="4"/>
<circle cx="570.8" cy="1849" r="4"/>
<circle cx="570.8" cy="1853" r="4"/>
<circle cx="556.3" cy="1854.4" r="4"/>
<circle cx="570.8" cy="1865.8" r="4"/>
<circle cx="585.4" cy="1867.5" r="4"/>
<circle cx="628.7" cy="1869.2" r="4"/>
<circle cx="585.4" cy="1880" r="4"/>
<circle cx="614.2" cy="1887.2" r="4"/>
<circle cx="585.4" cy="1944.5" r="4"/>
<line x1="556.9" y1="1870.1" x2="757.3" y2="1760.9" stroke="#000" stroke-width="2.1"/>
<text transform="translate(727.7 1943.2) scale(0.915 1)" font-size="30.8">r = 0.73</text>
</g>
<g>
<text x="97.7" y="2124" font-size="24">Heat shock 70 kDa protein 1A/1B</text>
<line x1="104.6" y1="2177.3" x2="104.6" y2="2428.5" stroke="#000" stroke-width="3.8"/>
<line x1="103.2" y1="2427.1" x2="405.7" y2="2427.1" stroke="#000" stroke-width="2.9"/>
<line x1="95.6" y1="2178.7" x2="104.6" y2="2178.7" stroke="#000" stroke-width="2.9"/>
<text transform="translate(66.7 2184) scale(0.944 1)" font-size="16.2">33.0</text>
<line x1="95.6" y1="2261.4" x2="104.6" y2="2261.4" stroke="#000" stroke-width="2.9"/>
<text transform="translate(66.7 2266.6) scale(0.944 1)" font-size="16.2">32.5</text>
<line x1="95.6" y1="2344.4" x2="104.6" y2="2344.4" stroke="#000" stroke-width="2.9"/>
<text transform="translate(66.7 2349.6) scale(0.944 1)" font-size="16.2">32.0</text>
<line x1="95.6" y1="2427.1" x2="104.6" y2="2427.1" stroke="#000" stroke-width="2.9"/>
<text transform="translate(66.7 2432.3) scale(0.944 1)" font-size="16.2">31.5</text>
<line x1="155.4" y1="2427.1" x2="155.4" y2="2434.5" stroke="#000" stroke-width="2.9"/>
<text x="144.8" y="2449.6" font-size="14.7">OA</text>
<line x1="258" y1="2427.1" x2="258" y2="2434.5" stroke="#000" stroke-width="2.9"/>
<text x="237.6" y="2449.6" font-size="15.3">CPPA</text>
<line x1="360.4" y1="2427.1" x2="360.4" y2="2434.5" stroke="#000" stroke-width="2.9"/>
<text x="349.8" y="2449.6" font-size="14.9">RA</text>
<text transform="translate(24 2413.4) rotate(-90) scale(0.917 1)" x="-1.9" y="0" font-size="23.8">MS/MS - Log2 Intensity</text>
<path d="M121.8 2286.2H189.6M137.7 2264.5H173.4M137.7 2308.2H173.4M155.5 2264.5V2308.2" stroke="#000" stroke-width="1.9" fill="none"/>
<circle cx="149.4" cy="2187.5" r="4.2"/>
<circle cx="161.7" cy="2194.7" r="4.2"/>
<circle cx="155.4" cy="2238.6" r="4.2"/>
<circle cx="155.4" cy="2292.2" r="4.2"/>
<circle cx="155.4" cy="2308.2" r="4.2"/>
<circle cx="143.1" cy="2325.3" r="4.2"/>
<circle cx="167.9" cy="2322.7" r="4.2"/>
<circle cx="155.4" cy="2332.1" r="4.2"/>
<circle cx="155.4" cy="2378" r="4.2"/>
<path d="M224.4 2278.8H291.7M240.4 2261.1H276M240.4 2296.7H276M258.2 2261.1V2296.7" stroke="#000" stroke-width="1.9" fill="none"/>
<rect x="253.8" y="2217.2" width="8.5" height="8.5"/>
<rect x="241.3" y="2242.6" width="8.5" height="8.5"/>
<rect x="266.1" y="2250.6" width="8.5" height="8.5"/>
<rect x="253.8" y="2254" width="8.5" height="8.5"/>
<rect x="247.5" y="2300.5" width="8.5" height="8.5"/>
<rect x="260.1" y="2306.2" width="8.5" height="8.5"/>
<rect x="253.8" y="2352.7" width="8.5" height="8.5"/>
<path d="M326.5 2346.6H394.3M342.7 2333.8H378.4M342.7 2359.2H378.4M360.5 2333.8V2359.2" stroke="#000" stroke-width="1.9" fill="none"/>
<path d="M360.4 2279.6L365 2287.7H355.8Z"/>
<path d="M360.4 2304.1L365 2312.2H355.8Z"/>
<path d="M360.4 2337.2L365 2345.3H355.8Z"/>
<path d="M360.4 2351.5L365 2359.5H355.8Z"/>
<path d="M354.1 2354.3L358.7 2362.4H349.6Z"/>
<path d="M366.7 2365.7L371.3 2373.8H362.1Z"/>
<path d="M366.7 2372.6L371.3 2380.6H362.1Z"/>
<path d="M354.1 2382.2L358.7 2390.3H349.6Z"/>
<line x1="236.1" y1="2202.4" x2="347.9" y2="2202.4" stroke="#4472C4" stroke-width="3.6"/>
<text class="st" x="238.1" y="2197.7" font-size="18.9">*</text>
</g>
<g>
<text x="558.2" y="2119.7" font-size="24.1">Heat shock 70 kDa protein 1A/1B</text>
<line x1="534.1" y1="2155.1" x2="534.1" y2="2418.1" stroke="#000" stroke-width="3.3"/>
<line x1="532.8" y1="2416.8" x2="809.2" y2="2416.8" stroke="#000" stroke-width="2.5"/>
<line x1="526.5" y1="2156.4" x2="534.1" y2="2156.4" stroke="#000" stroke-width="2.5"/>
<text x="493.9" y="2162" font-size="16.2">33.5</text>
<line x1="526.5" y1="2221.2" x2="534.1" y2="2221.2" stroke="#000" stroke-width="2.5"/>
<text x="493.9" y="2226.8" font-size="16.2">33.0</text>
<line x1="526.5" y1="2286.5" x2="534.1" y2="2286.5" stroke="#000" stroke-width="2.5"/>
<text x="493.9" y="2292.1" font-size="16.2">32.5</text>
<line x1="526.5" y1="2351.5" x2="534.1" y2="2351.5" stroke="#000" stroke-width="2.5"/>
<text x="493.9" y="2357.1" font-size="16.2">32.0</text>
<line x1="526.5" y1="2416.8" x2="534.1" y2="2416.8" stroke="#000" stroke-width="2.5"/>
<text x="493.9" y="2422.4" font-size="16.2">31.5</text>
<line x1="534.1" y1="2416.8" x2="534.1" y2="2424.4" stroke="#000" stroke-width="2.5"/>
<text x="529.5" y="2439.5" font-size="16.2">0</text>
<line x1="602.5" y1="2416.8" x2="602.5" y2="2424.4" stroke="#000" stroke-width="2.5"/>
<text x="598" y="2439.5" font-size="16.2">5</text>
<line x1="671.2" y1="2416.8" x2="671.2" y2="2424.4" stroke="#000" stroke-width="2.5"/>
<text x="662.2" y="2439.5" font-size="16.2">10</text>
<line x1="739.9" y1="2416.8" x2="739.9" y2="2424.4" stroke="#000" stroke-width="2.5"/>
<text x="730.9" y="2439.5" font-size="16.2">15</text>
<line x1="808.3" y1="2416.8" x2="808.3" y2="2424.4" stroke="#000" stroke-width="2.5"/>
<text x="799.3" y="2439.5" font-size="16.2">20</text>
<text x="524.6" y="2474.7" font-size="23.9">Histological inflammatory score</text>
<text transform="translate(447 2403.4) rotate(-90) scale(0.865 1)" x="-2.1" y="0" font-size="26.7">MS/MS - Log2 Intensity</text>
<circle cx="588.8" cy="2228" r="4.5"/>
<circle cx="588.8" cy="2234.3" r="4.5"/>
<circle cx="602.5" cy="2254.8" r="4.5"/>
<circle cx="588.8" cy="2268.2" r="4.5"/>
<circle cx="602.5" cy="2275.1" r="4.5"/>
<circle cx="602.5" cy="2283.6" r="4.5"/>
<circle cx="629.9" cy="2281.4" r="4.5"/>
<circle cx="698.6" cy="2303" r="4.5"/>
<circle cx="643.5" cy="2309.9" r="4.5"/>
<circle cx="602.5" cy="2320.1" r="4.5"/>
<circle cx="629.9" cy="2323.3" r="4.5"/>
<circle cx="725.9" cy="2322.4" r="4.5"/>
<circle cx="657.2" cy="2324.4" r="4.5"/>
<circle cx="616.2" cy="2334.1" r="4.5"/>
<circle cx="588.8" cy="2336.7" r="4.5"/>
<circle cx="575.1" cy="2341.2" r="4.5"/>
<circle cx="753.3" cy="2348.6" r="4.5"/>
<circle cx="725.9" cy="2358.6" r="4.5"/>
<circle cx="712.3" cy="2361.2" r="4.5"/>
<circle cx="767" cy="2361.8" r="4.5"/>
<circle cx="739.6" cy="2370.6" r="4.5"/>
<circle cx="725.9" cy="2375.2" r="4.5"/>
<circle cx="629.9" cy="2377.7" r="4.5"/>
<circle cx="725.9" cy="2384.3" r="4.5"/>
<line x1="575.1" y1="2282.2" x2="765.6" y2="2371.7" stroke="#000" stroke-width="1.6"/>
<text transform="translate(687.7 2243.3) scale(0.915 1)" font-size="31">r = -0.66</text>
</g>
<g>
<text x="1114.8" y="21.4" font-size="24">78 kDa glucose-related protein</text>
<line x1="1124.1" y1="71.4" x2="1124.1" y2="320.6" stroke="#000" stroke-width="3.3"/>
<line x1="1122.8" y1="319.3" x2="1379.9" y2="319.3" stroke="#000" stroke-width="2.5"/>
<line x1="1116.5" y1="72.7" x2="1124.1" y2="72.7" stroke="#000" stroke-width="2.5"/>
<text transform="translate(1103 77) scale(0.950 1)" font-size="13.4">35</text>
<line x1="1116.5" y1="155.4" x2="1124.1" y2="155.4" stroke="#000" stroke-width="2.5"/>
<text transform="translate(1103 159.7) scale(0.950 1)" font-size="13.4">34</text>
<line x1="1116.5" y1="237.2" x2="1124.1" y2="237.2" stroke="#000" stroke-width="2.5"/>
<text transform="translate(1103 241.5) scale(0.950 1)" font-size="13.4">33</text>
<line x1="1116.5" y1="319.3" x2="1124.1" y2="319.3" stroke="#000" stroke-width="2.5"/>
<text transform="translate(1103 323.6) scale(0.950 1)" font-size="13.4">32</text>
<line x1="1166.9" y1="319.3" x2="1166.9" y2="325.5" stroke="#000" stroke-width="2.5"/>
<text x="1158.1" y="337.3" font-size="11.8">OA</text>
<line x1="1251.8" y1="319.3" x2="1251.8" y2="325.5" stroke="#000" stroke-width="2.5"/>
<text x="1235" y="337.3" font-size="12.7">CPPA</text>
<line x1="1337.4" y1="319.3" x2="1337.4" y2="325.5" stroke="#000" stroke-width="2.5"/>
<text x="1328.4" y="337.3" font-size="12.4">RA</text>
<text transform="translate(1085.6 284.6) rotate(-90) scale(0.911 1)" x="-1.5" y="0" font-size="18.9">MS/MS - Log2 Intensity</text>
<path d="M1138.3 219.5H1195.4M1152 211.3H1181.7M1152 227.8H1181.7M1166.9 211.3V227.8" stroke="#000" stroke-width="1.6" fill="none"/>
<circle cx="1171.7" cy="184.2" r="3.5"/>
<circle cx="1161.4" cy="193.6" r="3.5"/>
<circle cx="1156.3" cy="212.4" r="3.5"/>
<circle cx="1166.9" cy="213.3" r="3.5"/>
<circle cx="1177.1" cy="212.1" r="3.5"/>
<circle cx="1166.9" cy="225" r="3.5"/>
<circle cx="1161.4" cy="236.1" r="3.5"/>
<circle cx="1171.7" cy="243.5" r="3.5"/>
<circle cx="1166.9" cy="257.5" r="3.5"/>
<path d="M1223.9 217.6H1280.3M1237.3 204.2H1266.9M1237.3 231.2H1266.9M1252.1 204.2V231.2" stroke="#000" stroke-width="1.6" fill="none"/>
<rect x="1248.3" y="176.1" width="7" height="7"/>
<rect x="1243.2" y="179.8" width="7" height="7"/>
<rect x="1253.5" y="189" width="7" height="7"/>
<rect x="1248.3" y="209.8" width="7" height="7"/>
<rect x="1243.2" y="233.1" width="7" height="7"/>
<rect x="1253.5" y="240.8" width="7" height="7"/>
<rect x="1248.3" y="271.6" width="7" height="7"/>
<path d="M1309.1 175.6H1365.9M1322.8 169.1H1352.2M1322.8 181.9H1352.2M1337.5 169.1V181.9" stroke="#000" stroke-width="1.6" fill="none"/>
<path d="M1342.8 146.4L1346.6 153H1339Z"/>
<path d="M1332.2 149.5L1336 156.2H1328.4Z"/>
<path d="M1332.2 163.5L1336 170.1H1328.4Z"/>
<path d="M1342.8 168L1346.6 174.7H1339Z"/>
<path d="M1353.1 184.3L1356.8 190.9H1349.3Z"/>
<path d="M1321.7 188.8L1325.5 195.5H1317.9Z"/>
<path d="M1342.8 189.1L1346.6 195.8H1339Z"/>
<path d="M1332.2 192L1336 198.6H1328.4Z"/>
<line x1="1160.6" y1="107.8" x2="1359.9" y2="107.8" stroke="#4472C4" stroke-width="3.6"/>
<line x1="1244.4" y1="128" x2="1356.2" y2="128" stroke="#4472C4" stroke-width="3.6"/>
<text class="st" x="1247.6" y="110.8" font-size="18.9" letter-spacing="3.08">**</text>
<text class="st" x="1247.6" y="132.2" font-size="18.9">*</text>
</g>
<g>
<text x="1553.8" y="21.4" font-size="24.1">78 kDa glucose-related protein</text>
<line x1="1535.1" y1="79.1" x2="1535.1" y2="324.5" stroke="#000" stroke-width="3.8"/>
<line x1="1533.7" y1="323.1" x2="1862.2" y2="323.1" stroke="#000" stroke-width="2.9"/>
<line x1="1526.2" y1="80.6" x2="1535.1" y2="80.6" stroke="#000" stroke-width="2.9"/>
<text transform="translate(1495.2 86) scale(1.121 1)" font-size="14.3">34.5</text>
<line x1="1526.2" y1="141.4" x2="1535.1" y2="141.4" stroke="#000" stroke-width="2.9"/>
<text transform="translate(1495.2 146.9) scale(1.121 1)" font-size="14.3">34.0</text>
<line x1="1526.2" y1="202.2" x2="1535.1" y2="202.2" stroke="#000" stroke-width="2.9"/>
<text transform="translate(1495.2 207.6) scale(1.121 1)" font-size="14.3">33.5</text>
<line x1="1526.2" y1="262.6" x2="1535.1" y2="262.6" stroke="#000" stroke-width="2.9"/>
<text transform="translate(1495.2 268) scale(1.121 1)" font-size="14.3">33.0</text>
<line x1="1526.2" y1="323.1" x2="1535.1" y2="323.1" stroke="#000" stroke-width="2.9"/>
<text transform="translate(1495.2 328.5) scale(1.121 1)" font-size="14.3">32.5</text>
<line x1="1535.1" y1="323.1" x2="1535.1" y2="332" stroke="#000" stroke-width="2.9"/>
<text transform="translate(1530.7 343.8) scale(1.121 1)" font-size="14.3">0</text>
<line x1="1616.4" y1="323.1" x2="1616.4" y2="332" stroke="#000" stroke-width="2.9"/>
<text transform="translate(1611.9 343.8) scale(1.121 1)" font-size="14.3">5</text>
<line x1="1697.9" y1="323.1" x2="1697.9" y2="332" stroke="#000" stroke-width="2.9"/>
<text transform="translate(1689 343.8) scale(1.121 1)" font-size="14.3">10</text>
<line x1="1779.5" y1="323.1" x2="1779.5" y2="332" stroke="#000" stroke-width="2.9"/>
<text transform="translate(1770.6 343.8) scale(1.121 1)" font-size="14.3">15</text>
<line x1="1861" y1="323.1" x2="1861" y2="332" stroke="#000" stroke-width="2.9"/>
<text transform="translate(1852.1 343.8) scale(1.121 1)" font-size="14.3">20</text>
<text x="1541.6" y="366.4" font-size="24">Histological inflammatory score</text>
<text transform="translate(1475 305.1) rotate(-90) scale(0.834 1)" x="-1.9" y="0" font-size="24.2">MS/MS - Log2 Intensity</text>
<ellipse cx="1795.7" cy="133.4" rx="4.9" ry="4.1"/>
<ellipse cx="1779.5" cy="137.7" rx="4.9" ry="4.1"/>
<ellipse cx="1763.2" cy="158.8" rx="4.9" ry="4.1"/>
<ellipse cx="1763.2" cy="165.1" rx="4.9" ry="4.1"/>
<ellipse cx="1746.7" cy="178.5" rx="4.9" ry="4.1"/>
<ellipse cx="1616.4" cy="183.1" rx="4.9" ry="4.1"/>
<ellipse cx="1648.9" cy="184.5" rx="4.9" ry="4.1"/>
<ellipse cx="1763.2" cy="189" rx="4.9" ry="4.1"/>
<ellipse cx="1682" cy="196.2" rx="4.9" ry="4.1"/>
<ellipse cx="1730.4" cy="196.2" rx="4.9" ry="4.1"/>
<ellipse cx="1812" cy="195.9" rx="4.9" ry="4.1"/>
<ellipse cx="1600.1" cy="197.9" rx="4.9" ry="4.1"/>
<ellipse cx="1763.2" cy="200.2" rx="4.9" ry="4.1"/>
<ellipse cx="1600.1" cy="226.4" rx="4.9" ry="4.1"/>
<ellipse cx="1632.6" cy="229" rx="4.9" ry="4.1"/>
<ellipse cx="1648.9" cy="227.8" rx="4.9" ry="4.1"/>
<ellipse cx="1665.4" cy="244.1" rx="4.9" ry="4.1"/>
<ellipse cx="1600.1" cy="261.5" rx="4.9" ry="4.1"/>
<ellipse cx="1616.4" cy="261.7" rx="4.9" ry="4.1"/>
<ellipse cx="1616.4" cy="273.2" rx="4.9" ry="4.1"/>
<ellipse cx="1648.9" cy="272" rx="4.9" ry="4.1"/>
<ellipse cx="1583.9" cy="292.5" rx="4.9" ry="4.1"/>
<ellipse cx="1616.4" cy="318.5" rx="4.9" ry="4.1"/>
<line x1="1583.9" y1="258" x2="1810" y2="154.3" stroke="#000" stroke-width="2.5"/>
<text transform="translate(1758.1 294.7) scale(0.915 1)" font-size="30.9">r = 0.72</text>
</g>
<g>
<text x="1128.3" y="429.9" font-size="23.9">Hypoxia up-regulated protein 1</text>
<line x1="1143.2" y1="479.3" x2="1143.2" y2="692.9" stroke="#000" stroke-width="3.3"/>
<line x1="1141.9" y1="691.7" x2="1397.8" y2="691.7" stroke="#000" stroke-width="2.5"/>
<line x1="1135.6" y1="480.6" x2="1143.2" y2="480.6" stroke="#000" stroke-width="2.5"/>
<text transform="translate(1118.4 486) scale(0.946 1)" font-size="15.8">31</text>
<line x1="1135.6" y1="551.1" x2="1143.2" y2="551.1" stroke="#000" stroke-width="2.5"/>
<text transform="translate(1118.4 556.5) scale(0.946 1)" font-size="15.8">30</text>
<line x1="1135.6" y1="621.5" x2="1143.2" y2="621.5" stroke="#000" stroke-width="2.5"/>
<text transform="translate(1118.4 626.9) scale(0.946 1)" font-size="15.8">29</text>
<line x1="1135.6" y1="691.7" x2="1143.2" y2="691.7" stroke="#000" stroke-width="2.5"/>
<text transform="translate(1118.4 697.1) scale(0.946 1)" font-size="15.8">28</text>
<line x1="1185.1" y1="691.7" x2="1185.1" y2="697.9" stroke="#000" stroke-width="2.5"/>
<text x="1174.8" y="713.1" font-size="14">OA</text>
<line x1="1270.1" y1="691.7" x2="1270.1" y2="697.9" stroke="#000" stroke-width="2.5"/>
<text x="1250.6" y="713.1" font-size="14.7">CPPA</text>
<line x1="1355" y1="691.7" x2="1355" y2="697.9" stroke="#000" stroke-width="2.5"/>
<text x="1344.8" y="713.1" font-size="14.4">RA</text>
<text transform="translate(1098.9 691.7) rotate(-90) scale(0.927 1)" x="-1.8" y="0" font-size="22.3">MS/MS - Log2 Intensity</text>
<path d="M1157.2 586.2H1213.6M1170.6 577H1200.2M1170.6 595.3H1200.2M1185.4 577V595.3" stroke="#000" stroke-width="1.6" fill="none"/>
<circle cx="1185.1" cy="543.1" r="3.5"/>
<circle cx="1185.1" cy="555.7" r="3.5"/>
<circle cx="1185.1" cy="570.8" r="3.5"/>
<circle cx="1179.4" cy="578.2" r="3.5"/>
<circle cx="1191.1" cy="583.6" r="3.5"/>
<circle cx="1185.1" cy="597.3" r="3.5"/>
<circle cx="1179.4" cy="603.8" r="3.5"/>
<circle cx="1191.1" cy="615.8" r="3.5"/>
<circle cx="1185.1" cy="628.1" r="3.5"/>
<path d="M1241.9 580.8H1298.6M1255.3 567.9H1285.2M1255.3 594.2H1285.2M1270.2 567.9V594.2" stroke="#000" stroke-width="1.6" fill="none"/>
<rect x="1260.6" y="545.3" width="7" height="7"/>
<rect x="1272.6" y="548.4" width="7" height="7"/>
<rect x="1272.6" y="555.9" width="7" height="7"/>
<rect x="1260.6" y="566.1" width="7" height="7"/>
<rect x="1260.6" y="590.6" width="7" height="7"/>
<rect x="1272.6" y="598.3" width="7" height="7"/>
<rect x="1266.6" y="639.4" width="7" height="7"/>
<path d="M1326.8 542.8H1383.6M1340.2 534.6H1369.9M1340.2 550.8H1369.9M1355 534.6V550.8" stroke="#000" stroke-width="1.6" fill="none"/>
<path d="M1355 503L1358.8 509.7H1351.3Z"/>
<path d="M1360.7 516.4L1364.5 523.1H1357Z"/>
<path d="M1349.3 525.8L1353.1 532.5H1345.6Z"/>
<path d="M1355 547.8L1358.8 554.4H1351.3Z"/>
<path d="M1337.4 553.5L1341.2 560.1H1333.6Z"/>
<path d="M1373 552.9L1376.8 559.6H1369.2Z"/>
<path d="M1360.7 558L1364.5 564.7H1357Z"/>
<path d="M1349.3 564L1353.1 570.7H1345.6Z"/>
<line x1="1180.5" y1="476.1" x2="1380.1" y2="476.1" stroke="#4472C4" stroke-width="3.6"/>
<line x1="1268.7" y1="496.4" x2="1380.1" y2="496.4" stroke="#4472C4" stroke-width="3.6"/>
<text class="st" x="1269.8" y="480.9" font-size="18.9">*</text>
<text class="st" x="1269.8" y="496.6" font-size="18.9">*</text>
</g>
<g>
<text x="1567.3" y="429.9" font-size="24">Hypoxia up-regulated protein 1</text>
<line x1="1554.2" y1="478.6" x2="1554.2" y2="689.8" stroke="#000" stroke-width="3.4"/>
<line x1="1552.9" y1="688.5" x2="1840.2" y2="688.5" stroke="#000" stroke-width="2.6"/>
<line x1="1546.4" y1="479.9" x2="1554.2" y2="479.9" stroke="#000" stroke-width="2.6"/>
<text transform="translate(1526.5 484.9) scale(1.031 1)" font-size="16.2">31</text>
<line x1="1546.4" y1="549.1" x2="1554.2" y2="549.1" stroke="#000" stroke-width="2.6"/>
<text transform="translate(1526.5 554.1) scale(1.031 1)" font-size="16.2">30</text>
<line x1="1546.4" y1="618.7" x2="1554.2" y2="618.7" stroke="#000" stroke-width="2.6"/>
<text transform="translate(1526.5 623.7) scale(1.031 1)" font-size="16.2">29</text>
<line x1="1546.4" y1="688.5" x2="1554.2" y2="688.5" stroke="#000" stroke-width="2.6"/>
<text transform="translate(1526.5 693.6) scale(1.031 1)" font-size="16.2">28</text>
<line x1="1554.2" y1="688.5" x2="1554.2" y2="696.4" stroke="#000" stroke-width="2.6"/>
<text transform="translate(1549.6 711.2) scale(1.031 1)" font-size="16.2">0</text>
<line x1="1625.2" y1="688.5" x2="1625.2" y2="696.4" stroke="#000" stroke-width="2.6"/>
<text transform="translate(1620.6 711.2) scale(1.031 1)" font-size="16.2">5</text>
<line x1="1696.5" y1="688.5" x2="1696.5" y2="696.4" stroke="#000" stroke-width="2.6"/>
<text transform="translate(1687.2 711.2) scale(1.031 1)" font-size="16.2">10</text>
<line x1="1767.8" y1="688.5" x2="1767.8" y2="696.4" stroke="#000" stroke-width="2.6"/>
<text transform="translate(1758.5 711.2) scale(1.031 1)" font-size="16.2">15</text>
<line x1="1839.1" y1="688.5" x2="1839.1" y2="696.4" stroke="#000" stroke-width="2.6"/>
<text transform="translate(1829.8 711.2) scale(1.031 1)" font-size="16.2">20</text>
<text x="1541.6" y="739" font-size="24">Histological inflammatory score</text>
<text transform="translate(1504.4 697.4) rotate(-90) scale(0.888 1)" x="-2" y="0" font-size="25.2">MS/MS - Log2 Intensity</text>
<ellipse cx="1767.8" cy="504.9" rx="4.6" ry="4"/>
<ellipse cx="1782.1" cy="517.5" rx="4.6" ry="4"/>
<ellipse cx="1753.5" cy="527.4" rx="4.6" ry="4"/>
<ellipse cx="1653.7" cy="541.4" rx="4.6" ry="4"/>
<ellipse cx="1653.7" cy="547.4" rx="4.6" ry="4"/>
<ellipse cx="1625.2" cy="550.2" rx="4.6" ry="4"/>
<ellipse cx="1611" cy="553.7" rx="4.6" ry="4"/>
<ellipse cx="1753.5" cy="548.2" rx="4.6" ry="4"/>
<ellipse cx="1725" cy="554.8" rx="4.6" ry="4"/>
<ellipse cx="1753.5" cy="553.9" rx="4.6" ry="4"/>
<ellipse cx="1739.3" cy="557.4" rx="4.6" ry="4"/>
<ellipse cx="1753.5" cy="559.7" rx="4.6" ry="4"/>
<ellipse cx="1796.3" cy="564.2" rx="4.6" ry="4"/>
<ellipse cx="1639.5" cy="569.1" rx="4.6" ry="4"/>
<ellipse cx="1682.3" cy="567.6" rx="4.6" ry="4"/>
<ellipse cx="1596.7" cy="576.5" rx="4.6" ry="4"/>
<ellipse cx="1611" cy="580.8" rx="4.6" ry="4"/>
<ellipse cx="1625.2" cy="592.2" rx="4.6" ry="4"/>
<ellipse cx="1668" cy="594.7" rx="4.6" ry="4"/>
<ellipse cx="1625.2" cy="599.6" rx="4.6" ry="4"/>
<ellipse cx="1611" cy="601.9" rx="4.6" ry="4"/>
<ellipse cx="1653.7" cy="612.7" rx="4.6" ry="4"/>
<ellipse cx="1611" cy="625.5" rx="4.6" ry="4"/>
<ellipse cx="1625.2" cy="640.3" rx="4.6" ry="4"/>
<line x1="1597.3" y1="594.2" x2="1794" y2="531.7" stroke="#000" stroke-width="2"/>
<text transform="translate(1741 658.5) scale(0.915 1)" font-size="30.5">r = 0.63</text>
</g>
<g>
<text x="1190.5" y="806.5" font-size="24">Protein ERGIC-53</text>
<line x1="1143.5" y1="840.2" x2="1143.5" y2="1096.5" stroke="#000" stroke-width="3.7"/>
<line x1="1142" y1="1095" x2="1441.2" y2="1095" stroke="#000" stroke-width="2.9"/>
<line x1="1134.7" y1="841.6" x2="1143.5" y2="841.6" stroke="#000" stroke-width="2.9"/>
<text transform="translate(1119.1 847) scale(0.896 1)" font-size="16.2">31</text>
<line x1="1134.7" y1="926" x2="1143.5" y2="926" stroke="#000" stroke-width="2.9"/>
<text transform="translate(1119.1 931.4) scale(0.896 1)" font-size="16.2">30</text>
<line x1="1134.7" y1="1010.4" x2="1143.5" y2="1010.4" stroke="#000" stroke-width="2.9"/>
<text transform="translate(1119.1 1015.8) scale(0.896 1)" font-size="16.2">29</text>
<line x1="1134.7" y1="1095" x2="1143.5" y2="1095" stroke="#000" stroke-width="2.9"/>
<text transform="translate(1119.1 1100.4) scale(0.896 1)" font-size="16.2">28</text>
<line x1="1192.8" y1="1095" x2="1192.8" y2="1102.3" stroke="#000" stroke-width="2.9"/>
<text transform="translate(1182.8 1117) scale(0.953 1)" font-size="14.8">OA</text>
<line x1="1292.3" y1="1095" x2="1292.3" y2="1102.3" stroke="#000" stroke-width="2.9"/>
<text transform="translate(1272.5 1117) scale(0.953 1)" font-size="15.5">CPPA</text>
<line x1="1391.5" y1="1095" x2="1391.5" y2="1102.3" stroke="#000" stroke-width="2.9"/>
<text transform="translate(1381 1117) scale(0.953 1)" font-size="15.4">RA</text>
<text transform="translate(1099.3 1075.7) rotate(-90) scale(0.951 1)" x="-1.8" y="0" font-size="22.3">MS/MS - Log2 Intensity</text>
<path d="M1160 986.7H1226.2M1176 975.3H1210.2M1176 998.1H1210.2M1193.1 975.3V998.1" stroke="#000" stroke-width="1.8" fill="none"/>
<circle cx="1192.8" cy="921.1" r="4.1"/>
<circle cx="1199.1" cy="965.3" r="4.1"/>
<circle cx="1186.8" cy="974.7" r="4.1"/>
<circle cx="1199.1" cy="987.6" r="4.1"/>
<circle cx="1199.1" cy="999" r="4.1"/>
<circle cx="1186.8" cy="1004.7" r="4.1"/>
<circle cx="1192.8" cy="1020.1" r="4.1"/>
<circle cx="1192.8" cy="1032.9" r="4.1"/>
<path d="M1259.2 967.3H1325.4M1275.2 949.6H1309.4M1275.2 985.3H1309.4M1292.3 949.6V985.3" stroke="#000" stroke-width="1.8" fill="none"/>
<rect x="1294.5" y="914.2" width="8.2" height="8.2"/>
<rect x="1282.2" y="918.4" width="8.2" height="8.2"/>
<rect x="1282.2" y="939" width="8.2" height="8.2"/>
<rect x="1294.5" y="947.5" width="8.2" height="8.2"/>
<rect x="1288.2" y="984.3" width="8.2" height="8.2"/>
<rect x="1288.2" y="999.1" width="8.2" height="8.2"/>
<rect x="1288.2" y="1043" width="8.2" height="8.2"/>
<path d="M1358.5 925.4H1424.9M1374.4 911.1H1408.9M1374.4 939.4H1408.9M1391.7 911.1V939.4" stroke="#000" stroke-width="1.8" fill="none"/>
<path d="M1391.5 861.9L1396 869.7H1387.1Z"/>
<path d="M1391.5 879L1396 886.8H1387.1Z"/>
<path d="M1391.5 908.7L1396 916.5H1387.1Z"/>
<path d="M1397.8 915.5L1402.3 923.3H1393.4Z"/>
<path d="M1385.6 923.2L1390 931H1381.1Z"/>
<path d="M1391.5 950.3L1396 958.1H1387.1Z"/>
<path d="M1397.8 962.8L1402.3 970.6H1393.4Z"/>
<path d="M1385.6 973.7L1390 981.5H1381.1Z"/>
<line x1="1184.3" y1="848.7" x2="1380.1" y2="848.7" stroke="#4472C4" stroke-width="3.6"/>
<text class="st" x="1185.7" y="845.2" font-size="18.9">*</text>
</g>
<g>
<text x="1626.3" y="809.9" font-size="24">Protein ERGIC-53</text>
<line x1="1548.5" y1="840.6" x2="1548.5" y2="1085.6" stroke="#000" stroke-width="3.7"/>
<line x1="1547.1" y1="1084.2" x2="1863.6" y2="1084.2" stroke="#000" stroke-width="2.8"/>
<line x1="1539.9" y1="842" x2="1548.5" y2="842" stroke="#000" stroke-width="2.8"/>
<text transform="translate(1522.3 847.2) scale(0.975 1)" font-size="16">31</text>
<line x1="1539.9" y1="922.8" x2="1548.5" y2="922.8" stroke="#000" stroke-width="2.8"/>
<text transform="translate(1522.3 927.9) scale(0.975 1)" font-size="16">30</text>
<line x1="1539.9" y1="1003.5" x2="1548.5" y2="1003.5" stroke="#000" stroke-width="2.8"/>
<text transform="translate(1522.3 1008.6) scale(0.975 1)" font-size="16">29</text>
<line x1="1539.9" y1="1084.2" x2="1548.5" y2="1084.2" stroke="#000" stroke-width="2.8"/>
<text transform="translate(1522.3 1089.3) scale(0.975 1)" font-size="16">28</text>
<line x1="1548.5" y1="1084.2" x2="1548.5" y2="1092.9" stroke="#000" stroke-width="2.8"/>
<text transform="translate(1544.2 1105.5) scale(0.975 1)" font-size="16">0</text>
<line x1="1626.9" y1="1084.2" x2="1626.9" y2="1092.9" stroke="#000" stroke-width="2.8"/>
<text transform="translate(1622.6 1105.5) scale(0.975 1)" font-size="16">5</text>
<line x1="1705.4" y1="1084.2" x2="1705.4" y2="1092.9" stroke="#000" stroke-width="2.8"/>
<text transform="translate(1696.7 1105.5) scale(0.975 1)" font-size="16">10</text>
<line x1="1784.1" y1="1084.2" x2="1784.1" y2="1092.9" stroke="#000" stroke-width="2.8"/>
<text transform="translate(1775.4 1105.5) scale(0.975 1)" font-size="16">15</text>
<line x1="1862.5" y1="1084.2" x2="1862.5" y2="1092.9" stroke="#000" stroke-width="2.8"/>
<text transform="translate(1853.8 1105.5) scale(0.975 1)" font-size="16">20</text>
<text x="1542.5" y="1131.3" font-size="24">Histological inflammatory score</text>
<text transform="translate(1501.6 1072.2) rotate(-90) scale(0.921 1)" x="-1.9" y="0" font-size="23.3">MS/MS - Log2 Intensity</text>
<circle cx="1784.1" cy="864.7" r="4.4"/>
<circle cx="1768.4" cy="880.9" r="4.4"/>
<circle cx="1768.4" cy="910" r="4.4"/>
<circle cx="1752.7" cy="915.7" r="4.4"/>
<circle cx="1799.7" cy="916.6" r="4.4"/>
<circle cx="1658.3" cy="918.3" r="4.4"/>
<circle cx="1689.7" cy="919.1" r="4.4"/>
<circle cx="1736.7" cy="923.7" r="4.4"/>
<circle cx="1626.9" cy="939.4" r="4.4"/>
<circle cx="1658.3" cy="947.4" r="4.4"/>
<circle cx="1815.4" cy="949.1" r="4.4"/>
<circle cx="1642.6" cy="960.2" r="4.4"/>
<circle cx="1768.4" cy="961" r="4.4"/>
<circle cx="1611.3" cy="969.3" r="4.4"/>
<circle cx="1674" cy="969.6" r="4.4"/>
<circle cx="1768.4" cy="971.6" r="4.4"/>
<circle cx="1611.3" cy="981.3" r="4.4"/>
<circle cx="1626.9" cy="982.1" r="4.4"/>
<circle cx="1595.6" cy="992.4" r="4.4"/>
<circle cx="1626.9" cy="995.8" r="4.4"/>
<circle cx="1611.3" cy="997.8" r="4.4"/>
<circle cx="1658.3" cy="1012.1" r="4.4"/>
<circle cx="1611.3" cy="1024.6" r="4.4"/>
<circle cx="1626.9" cy="1038.3" r="4.4"/>
<line x1="1597.3" y1="991.5" x2="1813.7" y2="904" stroke="#000" stroke-width="2.2"/>
<text transform="translate(1758.1 1057.6) scale(0.915 1)" font-size="31">r = 0.68</text>
</g>
<g>
<text x="1149.7" y="1219.3" font-size="24.1">Protein Disulfide-isomerase A4</text>
<line x1="1135.5" y1="1261.5" x2="1135.5" y2="1542.2" stroke="#000" stroke-width="4"/>
<line x1="1134" y1="1540.7" x2="1460.5" y2="1540.7" stroke="#000" stroke-width="3.1"/>
<line x1="1125.9" y1="1263" x2="1135.5" y2="1263" stroke="#000" stroke-width="3.1"/>
<text transform="translate(1108.3 1269.3) scale(0.985 1)" font-size="16.7">33</text>
<line x1="1125.9" y1="1355.9" x2="1135.5" y2="1355.9" stroke="#000" stroke-width="3.1"/>
<text transform="translate(1108.3 1362.2) scale(0.985 1)" font-size="16.7">32</text>
<line x1="1125.9" y1="1448.3" x2="1135.5" y2="1448.3" stroke="#000" stroke-width="3.1"/>
<text transform="translate(1108.3 1454.6) scale(0.985 1)" font-size="16.7">31</text>
<line x1="1125.9" y1="1540.7" x2="1135.5" y2="1540.7" stroke="#000" stroke-width="3.1"/>
<text transform="translate(1108.3 1547) scale(0.985 1)" font-size="16.7">30</text>
<line x1="1189.1" y1="1540.7" x2="1189.1" y2="1548.6" stroke="#000" stroke-width="3.1"/>
<text transform="translate(1177.9 1564.9) scale(1.047 1)" font-size="14.9">OA</text>
<line x1="1298" y1="1540.7" x2="1298" y2="1548.6" stroke="#000" stroke-width="3.1"/>
<text transform="translate(1276.2 1564.9) scale(1.047 1)" font-size="15.6">CPPA</text>
<line x1="1406.4" y1="1540.7" x2="1406.4" y2="1548.6" stroke="#000" stroke-width="3.1"/>
<text transform="translate(1395.2 1564.9) scale(1.047 1)" font-size="15.1">RA</text>
<text transform="translate(1087 1519.3) rotate(-90) scale(0.960 1)" x="-1.9" y="0" font-size="24.2">MS/MS - Log2 Intensity</text>
<path d="M1153.2 1428.9H1225.3M1170.6 1419.5H1208.2M1170.6 1438.9H1208.2M1189.4 1419.5V1438.9" stroke="#000" stroke-width="2" fill="none"/>
<circle cx="1182.8" cy="1385.3" r="4.5"/>
<circle cx="1195.7" cy="1388.1" r="4.5"/>
<circle cx="1189.1" cy="1414.4" r="4.5"/>
<circle cx="1176.3" cy="1433.5" r="4.5"/>
<circle cx="1189.1" cy="1435.2" r="4.5"/>
<circle cx="1202.2" cy="1432.9" r="4.5"/>
<circle cx="1176.3" cy="1455.7" r="4.5"/>
<circle cx="1202.2" cy="1456" r="4.5"/>
<circle cx="1189.1" cy="1462.3" r="4.5"/>
<path d="M1261.8 1421.8H1334.2M1278.9 1400.7H1316.8M1278.9 1442.6H1316.8M1297.9 1400.7V1442.6" stroke="#000" stroke-width="2" fill="none"/>
<rect x="1293.5" y="1349.7" width="9" height="9"/>
<rect x="1293.5" y="1368" width="9" height="9"/>
<rect x="1293.5" y="1386.8" width="9" height="9"/>
<rect x="1293.5" y="1414.4" width="9" height="9"/>
<rect x="1286.7" y="1443.8" width="9" height="9"/>
<rect x="1299.8" y="1445.2" width="9" height="9"/>
<rect x="1293.5" y="1513.9" width="9" height="9"/>
<path d="M1370.2 1357.1H1442.6M1387.6 1342.5H1425.5M1387.6 1372.2H1425.5M1406.5 1342.5V1372.2" stroke="#000" stroke-width="2" fill="none"/>
<path d="M1406.4 1281.2L1411.2 1289.8H1401.5Z"/>
<path d="M1406.4 1322.3L1411.2 1330.8H1401.5Z"/>
<path d="M1412.9 1335.7L1417.8 1344.2H1408.1Z"/>
<path d="M1399.8 1343.7L1404.7 1352.2H1395Z"/>
<path d="M1406.4 1362.2L1411.2 1370.7H1401.5Z"/>
<path d="M1393.3 1393L1398.1 1401.5H1388.4Z"/>
<path d="M1419.5 1393.8L1424.3 1402.4H1414.6Z"/>
<path d="M1406.4 1397.8L1411.2 1406.4H1401.5Z"/>
<line x1="1180.5" y1="1257.3" x2="1444.3" y2="1257.3" stroke="#4472C4" stroke-width="3.6"/>
<line x1="1292.3" y1="1277.5" x2="1440.6" y2="1277.5" stroke="#4472C4" stroke-width="3.6"/>
<text class="st" x="1286.9" y="1257.2" font-size="18.9" letter-spacing="3.37">**</text>
<text class="st" x="1286.9" y="1277.4" font-size="18.9">*</text>
</g>
<g>
<text x="1589.2" y="1214.8" font-size="24.1">Protein Disulfide-isomerase A4</text>
<line x1="1555.1" y1="1265.9" x2="1555.1" y2="1551.3" stroke="#000" stroke-width="3.9"/>
<line x1="1553.6" y1="1549.8" x2="1895.8" y2="1549.8" stroke="#000" stroke-width="3"/>
<line x1="1545.8" y1="1267.5" x2="1555.1" y2="1267.5" stroke="#000" stroke-width="3"/>
<text x="1527.2" y="1272.7" font-size="16.7">33</text>
<line x1="1545.8" y1="1361.3" x2="1555.1" y2="1361.3" stroke="#000" stroke-width="3"/>
<text x="1527.2" y="1366.6" font-size="16.7">32</text>
<line x1="1545.8" y1="1455.7" x2="1555.1" y2="1455.7" stroke="#000" stroke-width="3"/>
<text x="1527.2" y="1461" font-size="16.7">31</text>
<line x1="1545.8" y1="1549.8" x2="1555.1" y2="1549.8" stroke="#000" stroke-width="3"/>
<text x="1527.2" y="1555.1" font-size="16.7">30</text>
<line x1="1555.1" y1="1549.8" x2="1555.1" y2="1559.1" stroke="#000" stroke-width="3"/>
<text x="1550.4" y="1572.2" font-size="16.7">0</text>
<line x1="1639.8" y1="1549.8" x2="1639.8" y2="1559.1" stroke="#000" stroke-width="3"/>
<text x="1635.1" y="1572.2" font-size="16.7">5</text>
<line x1="1724.7" y1="1549.8" x2="1724.7" y2="1559.1" stroke="#000" stroke-width="3"/>
<text x="1715.4" y="1572.2" font-size="16.7">10</text>
<line x1="1809.4" y1="1549.8" x2="1809.4" y2="1559.1" stroke="#000" stroke-width="3"/>
<text x="1800.1" y="1572.2" font-size="16.7">15</text>
<line x1="1894.4" y1="1549.8" x2="1894.4" y2="1559.1" stroke="#000" stroke-width="3"/>
<text x="1885.1" y="1572.2" font-size="16.7">20</text>
<text x="1557.3" y="1603.7" font-size="24.1">Histological inflammatory score</text>
<text transform="translate(1504.3 1519.3) rotate(-90) scale(0.868 1)" x="-2" y="0" font-size="25.2">MS/MS - Log2 Intensity</text>
<circle cx="1809.4" cy="1289.8" r="4.7"/>
<circle cx="1792.6" cy="1331.4" r="4.7"/>
<circle cx="1792.6" cy="1345.7" r="4.7"/>
<circle cx="1826.5" cy="1353.1" r="4.7"/>
<circle cx="1775.5" cy="1360.5" r="4.7"/>
<circle cx="1792.6" cy="1371.3" r="4.7"/>
<circle cx="1673.7" cy="1378.2" r="4.7"/>
<circle cx="1656.6" cy="1392.1" r="4.7"/>
<circle cx="1673.7" cy="1394.7" r="4.7"/>
<circle cx="1707.6" cy="1398.1" r="4.7"/>
<circle cx="1758.7" cy="1404.1" r="4.7"/>
<circle cx="1792.6" cy="1403.8" r="4.7"/>
<circle cx="1843.4" cy="1408.4" r="4.7"/>
<circle cx="1622.7" cy="1421.2" r="4.7"/>
<circle cx="1639.8" cy="1426.1" r="4.7"/>
<circle cx="1605.8" cy="1440.6" r="4.7"/>
<circle cx="1622.7" cy="1440.6" r="4.7"/>
<circle cx="1622.7" cy="1442.6" r="4.7"/>
<circle cx="1639.8" cy="1455.4" r="4.7"/>
<circle cx="1639.8" cy="1457.4" r="4.7"/>
<circle cx="1673.7" cy="1463.4" r="4.7"/>
<circle cx="1690.8" cy="1464" r="4.7"/>
<circle cx="1622.7" cy="1470.3" r="4.7"/>
<circle cx="1639.8" cy="1527" r="4.7"/>
<line x1="1606.4" y1="1457.1" x2="1841.6" y2="1343.9" stroke="#000" stroke-width="2.4"/>
<text transform="translate(1789.5 1518.9) scale(0.915 1)" font-size="30.8">r = 0.72</text>
</g>
<g>
<text x="1063.6" y="1656" font-size="24">Thioredoxin domain-containing protein 5</text>
<line x1="1144.9" y1="1694.3" x2="1144.9" y2="1973.7" stroke="#000" stroke-width="4"/>
<line x1="1143.4" y1="1972.2" x2="1471.9" y2="1972.2" stroke="#000" stroke-width="3.1"/>
<line x1="1135.3" y1="1695.9" x2="1144.9" y2="1695.9" stroke="#000" stroke-width="3.1"/>
<text transform="translate(1117.6 1701.7) scale(0.978 1)" font-size="16.2">34</text>
<line x1="1135.3" y1="1750.9" x2="1144.9" y2="1750.9" stroke="#000" stroke-width="3.1"/>
<text transform="translate(1117.6 1756.7) scale(0.978 1)" font-size="16.2">33</text>
<line x1="1135.3" y1="1806.2" x2="1144.9" y2="1806.2" stroke="#000" stroke-width="3.1"/>
<text transform="translate(1117.6 1812) scale(0.978 1)" font-size="16.2">32</text>
<line x1="1135.3" y1="1861.3" x2="1144.9" y2="1861.3" stroke="#000" stroke-width="3.1"/>
<text transform="translate(1117.6 1867.1) scale(0.978 1)" font-size="16.2">31</text>
<line x1="1135.3" y1="1916.6" x2="1144.9" y2="1916.6" stroke="#000" stroke-width="3.1"/>
<text transform="translate(1117.6 1922.4) scale(0.978 1)" font-size="16.2">30</text>
<line x1="1135.3" y1="1972.2" x2="1144.9" y2="1972.2" stroke="#000" stroke-width="3.1"/>
<text transform="translate(1117.6 1978) scale(0.978 1)" font-size="16.2">29</text>
<line x1="1199.1" y1="1972.2" x2="1199.1" y2="1980.1" stroke="#000" stroke-width="3.1"/>
<text transform="translate(1187.6 1995.8) scale(1.041 1)" font-size="15.1">OA</text>
<line x1="1308.6" y1="1972.2" x2="1308.6" y2="1980.1" stroke="#000" stroke-width="3.1"/>
<text transform="translate(1286.7 1995.8) scale(1.041 1)" font-size="15.6">CPPA</text>
<line x1="1417.8" y1="1972.2" x2="1417.8" y2="1980.1" stroke="#000" stroke-width="3.1"/>
<text transform="translate(1406.6 1995.8) scale(1.041 1)" font-size="15.2">RA</text>
<text transform="translate(1071 1953.1) rotate(-90) scale(0.963 1)" x="-1.9" y="0" font-size="24.2">MS/MS - Log2 Intensity</text>
<path d="M1162.9 1884.6H1235.9M1180.3 1878.9H1218.2M1180.3 1890.3H1218.2M1199.2 1878.9V1890.3" stroke="#000" stroke-width="2" fill="none"/>
<circle cx="1186" cy="1859.8" r="4.5"/>
<circle cx="1199.1" cy="1869.8" r="4.5"/>
<circle cx="1212.5" cy="1869" r="4.5"/>
<circle cx="1186" cy="1883.8" r="4.5"/>
<circle cx="1212.5" cy="1882.6" r="4.5"/>
<circle cx="1199.1" cy="1889.8" r="4.5"/>
<circle cx="1186" cy="1898.9" r="4.5"/>
<circle cx="1212.5" cy="1902.9" r="4.5"/>
<circle cx="1199.1" cy="1906.9" r="4.5"/>
<path d="M1272.1 1878.9H1345.1M1289.5 1867H1327.7M1289.5 1890.9H1327.7M1308.6 1867V1890.9" stroke="#000" stroke-width="2" fill="none"/>
<rect x="1304" y="1821.4" width="9" height="9"/>
<rect x="1304" y="1847.3" width="9" height="9"/>
<rect x="1304" y="1869.9" width="9" height="9"/>
<rect x="1284.1" y="1874.7" width="9" height="9"/>
<rect x="1323.7" y="1875.6" width="9" height="9"/>
<rect x="1297.8" y="1879.8" width="9" height="9"/>
<rect x="1310.6" y="1887.5" width="9" height="9"/>
<rect x="1304" y="1940.6" width="9" height="9"/>
<path d="M1381.3 1818.2H1454.3M1398.7 1801.1H1436.9M1398.7 1835.6H1436.9M1417.8 1801.1V1835.6" stroke="#000" stroke-width="2" fill="none"/>
<path d="M1417.8 1731.8L1422.7 1740.4H1412.9Z"/>
<path d="M1411.2 1784.3L1416.1 1792.8H1406.3Z"/>
<path d="M1424.6 1783.7L1429.5 1792.3H1419.7Z"/>
<path d="M1417.8 1802.5L1422.7 1811.1H1412.9Z"/>
<path d="M1417.8 1829.6L1422.7 1838.2H1412.9Z"/>
<path d="M1411.2 1848.4L1416.1 1857H1406.3Z"/>
<path d="M1424.6 1854.7L1429.5 1863.3H1419.7Z"/>
<path d="M1417.8 1882.6L1422.7 1891.2H1412.9Z"/>
<line x1="1180.5" y1="1697.9" x2="1449.1" y2="1697.9" stroke="#4472C4" stroke-width="3.6"/>
<line x1="1296" y1="1717.8" x2="1447.1" y2="1717.8" stroke="#4472C4" stroke-width="3.6"/>
<text class="st" x="1290.3" y="1702.4" font-size="18.9" letter-spacing="3.65">**</text>
<text class="st" x="1290.3" y="1718.1" font-size="18.9" letter-spacing="3.65">**</text>
</g>
<g>
<text x="1511.1" y="1655.4" font-size="24">Thioredoxin domain-containing protein 5</text>
<line x1="1574.2" y1="1696.4" x2="1574.2" y2="1970.1" stroke="#000" stroke-width="3.6"/>
<line x1="1572.8" y1="1968.8" x2="1881" y2="1968.8" stroke="#000" stroke-width="2.8"/>
<line x1="1565.8" y1="1697.7" x2="1574.2" y2="1697.7" stroke="#000" stroke-width="2.8"/>
<text transform="translate(1548.7 1704) scale(0.888 1)" font-size="18.1">33</text>
<line x1="1565.8" y1="1765.5" x2="1574.2" y2="1765.5" stroke="#000" stroke-width="2.8"/>
<text transform="translate(1548.7 1771.7) scale(0.888 1)" font-size="18.1">32</text>
<line x1="1565.8" y1="1833.3" x2="1574.2" y2="1833.3" stroke="#000" stroke-width="2.8"/>
<text transform="translate(1548.7 1839.6) scale(0.888 1)" font-size="18.1">31</text>
<line x1="1565.8" y1="1900.9" x2="1574.2" y2="1900.9" stroke="#000" stroke-width="2.8"/>
<text transform="translate(1548.7 1907.2) scale(0.888 1)" font-size="18.1">30</text>
<line x1="1565.8" y1="1968.8" x2="1574.2" y2="1968.8" stroke="#000" stroke-width="2.8"/>
<text transform="translate(1548.7 1975) scale(0.888 1)" font-size="18.1">29</text>
<line x1="1574.2" y1="1968.8" x2="1574.2" y2="1977.2" stroke="#000" stroke-width="2.8"/>
<text transform="translate(1569.7 1993.2) scale(0.888 1)" font-size="18.1">0</text>
<line x1="1650.6" y1="1968.8" x2="1650.6" y2="1977.2" stroke="#000" stroke-width="2.8"/>
<text transform="translate(1646.1 1993.2) scale(0.888 1)" font-size="18.1">5</text>
<line x1="1727" y1="1968.8" x2="1727" y2="1977.2" stroke="#000" stroke-width="2.8"/>
<text transform="translate(1718.1 1993.2) scale(0.888 1)" font-size="18.1">10</text>
<line x1="1803.4" y1="1968.8" x2="1803.4" y2="1977.2" stroke="#000" stroke-width="2.8"/>
<text transform="translate(1794.5 1993.2) scale(0.888 1)" font-size="18.1">15</text>
<line x1="1879.9" y1="1968.8" x2="1879.9" y2="1977.2" stroke="#000" stroke-width="2.8"/>
<text transform="translate(1870.9 1993.2) scale(0.888 1)" font-size="18.1">20</text>
<text x="1562.2" y="2019.8" font-size="24.1">Histological inflammatory score</text>
<text transform="translate(1528.4 1953.6) rotate(-90) scale(1.044 1)" x="-1.8" y="0" font-size="22.8">MS/MS - Log2 Intensity</text>
<circle cx="1788.3" cy="1743.2" r="4.5"/>
<circle cx="1818.8" cy="1742.6" r="4.5"/>
<circle cx="1788.3" cy="1765.5" r="4.5"/>
<circle cx="1772.9" cy="1789.7" r="4.5"/>
<circle cx="1788.3" cy="1797.7" r="4.5"/>
<circle cx="1680.8" cy="1821.3" r="4.5"/>
<circle cx="1834.2" cy="1821.9" r="4.5"/>
<circle cx="1788.3" cy="1829.3" r="4.5"/>
<circle cx="1665.7" cy="1831.3" r="4.5"/>
<circle cx="1634.9" cy="1844.2" r="4.5"/>
<circle cx="1680.8" cy="1843.3" r="4.5"/>
<circle cx="1650.6" cy="1848.7" r="4.5"/>
<circle cx="1650.6" cy="1855.8" r="4.5"/>
<circle cx="1634.9" cy="1859" r="4.5"/>
<circle cx="1696.2" cy="1861.3" r="4.5"/>
<circle cx="1619.8" cy="1867" r="4.5"/>
<circle cx="1757.5" cy="1863.8" r="4.5"/>
<circle cx="1711.6" cy="1870.4" r="4.5"/>
<circle cx="1680.8" cy="1879.5" r="4.5"/>
<circle cx="1634.9" cy="1883.8" r="4.5"/>
<circle cx="1634.9" cy="1888.9" r="4.5"/>
<circle cx="1650.6" cy="1936" r="4.5"/>
<line x1="1619.8" y1="1883.8" x2="1832.2" y2="1760.9" stroke="#000" stroke-width="2.2"/>
<text transform="translate(1777.5 1947.5) scale(0.915 1)" font-size="30.7">r = 0.73</text>
</g>
</g>
</svg>
</body>
</html>
